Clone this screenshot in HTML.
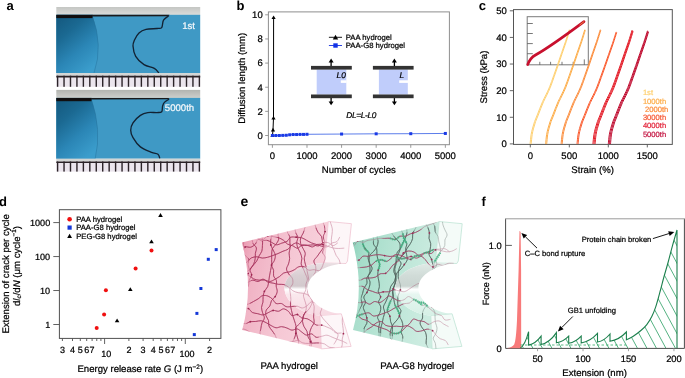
<!DOCTYPE html>
<html><head><meta charset="utf-8"><style>
html,body{margin:0;padding:0;background:#fff;width:685px;height:378px;overflow:hidden}
svg{display:block;filter:blur(0.4px)}
text{font-family:"Liberation Sans",sans-serif;text-rendering:geometricPrecision}
</style></head><body>
<svg width="685" height="378" viewBox="0 0 685 378" font-family="Liberation Sans, sans-serif">
<rect width="685" height="378" fill="#fff"/>
<defs>
<linearGradient id="gbar1" x1="0" y1="0" x2="0" y2="1"><stop offset="0" stop-color="#c4c6c3"/><stop offset="1" stop-color="#dcdddb"/></linearGradient>
<linearGradient id="gbar2" x1="0" y1="0" x2="0" y2="1"><stop offset="0" stop-color="#b2b4b0"/><stop offset="1" stop-color="#cfd0cd"/></linearGradient>
<linearGradient id="lens" x1="0.1" y1="0" x2="0.7" y2="1">
 <stop offset="0" stop-color="#14597f"/><stop offset="0.3" stop-color="#1b6992"/><stop offset="0.65" stop-color="#2b86b6"/><stop offset="1" stop-color="#3b9dcc"/></linearGradient>
<linearGradient id="pinkF" x1="0" y1="0" x2="1" y2="0.3">
 <stop offset="0" stop-color="#df7896"/><stop offset="0.07" stop-color="#eb9db3"/><stop offset="0.18" stop-color="#f0b1c3"/><stop offset="0.6" stop-color="#f5c7d4"/><stop offset="1" stop-color="#f8d2dc"/></linearGradient>
<linearGradient id="pinkN" x1="0" y1="0" x2="0" y2="1">
 <stop offset="0" stop-color="#eadfe3"/><stop offset="0.25" stop-color="#d9ced2"/><stop offset="0.44" stop-color="#d3c9cd"/><stop offset="0.5" stop-color="#ffffff"/><stop offset="0.6" stop-color="#fae8ed"/><stop offset="1" stop-color="#f7d9e2"/></linearGradient>
<linearGradient id="greenF" x1="0" y1="0" x2="1" y2="0.3">
 <stop offset="0" stop-color="#7acab0"/><stop offset="0.07" stop-color="#93d5bf"/><stop offset="0.18" stop-color="#a6ddca"/><stop offset="0.6" stop-color="#bce6d7"/><stop offset="1" stop-color="#cdece1"/></linearGradient>
<linearGradient id="greenN" x1="0" y1="0" x2="0" y2="1">
 <stop offset="0" stop-color="#e0ebe7"/><stop offset="0.25" stop-color="#d0dbd7"/><stop offset="0.44" stop-color="#cad5d1"/><stop offset="0.5" stop-color="#ffffff"/><stop offset="0.6" stop-color="#e6f6f0"/><stop offset="1" stop-color="#d6f0e6"/></linearGradient>
</defs>
<rect x="56.3" y="7.0" width="143.89999999999998" height="8.3" fill="url(#gbar1)"/>
<rect x="56.3" y="14.8" width="143.89999999999998" height="58.3" fill="#3f99c5"/>
<path d="M56.3,14.8 L92.0,14.8 Q103.5,45.5 94,73.1 L56.3,73.1 Z" fill="url(#lens)"/>
<path d="M92.0,14.8 Q103.5,45.5 94,73.1" fill="none" stroke="#246f99" stroke-width="0.8" opacity="0.6"/>
<rect x="56.3" y="14.8" width="36.2" height="3.3" fill="#110f10"/>
<path d="M92.0,14.8 L169.5,14.8 L168,16.2 L92.0,16.400000000000002 Z" fill="#1a1a1c"/>
<path d="M169.00,15.50 C168.08,16.28 164.72,18.18 163.50,20.20 C162.28,22.22 162.78,26.22 161.70,27.60 C160.62,28.98 159.62,28.20 157.00,28.50 C154.38,28.80 149.00,28.65 146.00,29.40 C143.00,30.15 140.92,31.23 139.00,33.00 C137.08,34.77 135.50,37.83 134.50,40.00 C133.50,42.17 132.80,43.28 133.00,46.00 C133.20,48.72 133.87,53.20 135.70,56.30 C137.53,59.40 140.90,62.60 144.00,64.60 C147.10,66.60 151.82,66.90 154.30,68.30 C156.78,69.70 158.13,72.22 158.90,73.00" fill="none" stroke="#122233" stroke-width="1.35" stroke-linejoin="round"/>
<rect x="56.3" y="73.1" width="143.89999999999998" height="2.6000000000000085" fill="#d2d5d4"/>
<rect x="56.3" y="75.7" width="143.89999999999998" height="11.099999999999994" fill="#ebe5ed"/>
<rect x="56.3" y="75.7" width="143.89999999999998" height="1.7999999999999972" fill="#2a2226"/>
<rect x="56.90" y="75.7" width="1.4" height="11.099999999999994" fill="#2b2328"/>
<rect x="63.34" y="75.7" width="1.4" height="11.099999999999994" fill="#2b2328"/>
<rect x="69.79" y="75.7" width="1.4" height="11.099999999999994" fill="#2b2328"/>
<rect x="76.23" y="75.7" width="1.4" height="11.099999999999994" fill="#2b2328"/>
<rect x="82.68" y="75.7" width="1.4" height="11.099999999999994" fill="#2b2328"/>
<rect x="89.12" y="75.7" width="1.4" height="11.099999999999994" fill="#2b2328"/>
<rect x="95.57" y="75.7" width="1.4" height="11.099999999999994" fill="#2b2328"/>
<rect x="102.01" y="75.7" width="1.4" height="11.099999999999994" fill="#2b2328"/>
<rect x="108.46" y="75.7" width="1.4" height="11.099999999999994" fill="#2b2328"/>
<rect x="114.90" y="75.7" width="1.4" height="11.099999999999994" fill="#2b2328"/>
<rect x="121.35" y="75.7" width="1.4" height="11.099999999999994" fill="#2b2328"/>
<rect x="127.79" y="75.7" width="1.4" height="11.099999999999994" fill="#2b2328"/>
<rect x="134.24" y="75.7" width="1.4" height="11.099999999999994" fill="#2b2328"/>
<rect x="140.68" y="75.7" width="1.4" height="11.099999999999994" fill="#2b2328"/>
<rect x="147.13" y="75.7" width="1.4" height="11.099999999999994" fill="#2b2328"/>
<rect x="153.57" y="75.7" width="1.4" height="11.099999999999994" fill="#2b2328"/>
<rect x="160.02" y="75.7" width="1.4" height="11.099999999999994" fill="#2b2328"/>
<rect x="166.46" y="75.7" width="1.4" height="11.099999999999994" fill="#2b2328"/>
<rect x="172.91" y="75.7" width="1.4" height="11.099999999999994" fill="#2b2328"/>
<rect x="179.35" y="75.7" width="1.4" height="11.099999999999994" fill="#2b2328"/>
<rect x="185.80" y="75.7" width="1.4" height="11.099999999999994" fill="#2b2328"/>
<rect x="192.24" y="75.7" width="1.4" height="11.099999999999994" fill="#2b2328"/>
<rect x="198.69" y="75.7" width="1.4" height="11.099999999999994" fill="#2b2328"/>
<text x="182.20" y="28.60" font-size="9.6" text-anchor="start" fill="#f4f8fb" stroke="#f4f8fb" stroke-width="0.22" >1st</text>
<rect x="56.3" y="89.9" width="143.89999999999998" height="8.5" fill="url(#gbar2)"/>
<rect x="56.3" y="97.9" width="143.89999999999998" height="60.79999999999998" fill="#3f99c5"/>
<path d="M56.3,97.9 L91.0,97.9 Q102,130 95.2,158.7 L56.3,158.7 Z" fill="url(#lens)"/>
<path d="M91.0,97.9 Q102,130 95.2,158.7" fill="none" stroke="#246f99" stroke-width="0.8" opacity="0.6"/>
<rect x="56.3" y="97.9" width="35.2" height="3.3" fill="#110f10"/>
<path d="M91.0,97.9 L169.6,97.9 L168.1,99.30000000000001 L91.0,99.5 Z" fill="#1a1a1c"/>
<path d="M169.10,99.20 C168.32,99.73 165.48,101.25 164.40,102.40 C163.32,103.55 163.05,104.55 162.60,106.10 C162.15,107.65 162.63,110.62 161.70,111.70 C160.77,112.78 159.32,112.45 157.00,112.60 C154.68,112.75 150.57,112.13 147.80,112.60 C145.03,113.07 142.87,113.70 140.40,115.40 C137.93,117.10 134.62,120.33 133.00,122.80 C131.38,125.27 130.70,127.73 130.70,130.20 C130.70,132.67 131.38,134.82 133.00,137.60 C134.62,140.38 137.32,144.43 140.40,146.90 C143.48,149.37 148.57,151.17 151.50,152.40 C154.43,153.63 156.62,153.28 158.00,154.30 C159.38,155.32 159.50,157.80 159.80,158.50" fill="none" stroke="#122233" stroke-width="1.35" stroke-linejoin="round"/>
<rect x="56.3" y="158.7" width="143.89999999999998" height="2.8000000000000114" fill="#d2d5d4"/>
<rect x="56.3" y="161.5" width="143.89999999999998" height="10.099999999999994" fill="#ebe5ed"/>
<rect x="56.3" y="161.5" width="143.89999999999998" height="1.5" fill="#2a2226"/>
<rect x="56.90" y="161.5" width="1.4" height="10.099999999999994" fill="#2b2328"/>
<rect x="63.34" y="161.5" width="1.4" height="10.099999999999994" fill="#2b2328"/>
<rect x="69.79" y="161.5" width="1.4" height="10.099999999999994" fill="#2b2328"/>
<rect x="76.23" y="161.5" width="1.4" height="10.099999999999994" fill="#2b2328"/>
<rect x="82.68" y="161.5" width="1.4" height="10.099999999999994" fill="#2b2328"/>
<rect x="89.12" y="161.5" width="1.4" height="10.099999999999994" fill="#2b2328"/>
<rect x="95.57" y="161.5" width="1.4" height="10.099999999999994" fill="#2b2328"/>
<rect x="102.01" y="161.5" width="1.4" height="10.099999999999994" fill="#2b2328"/>
<rect x="108.46" y="161.5" width="1.4" height="10.099999999999994" fill="#2b2328"/>
<rect x="114.90" y="161.5" width="1.4" height="10.099999999999994" fill="#2b2328"/>
<rect x="121.35" y="161.5" width="1.4" height="10.099999999999994" fill="#2b2328"/>
<rect x="127.79" y="161.5" width="1.4" height="10.099999999999994" fill="#2b2328"/>
<rect x="134.24" y="161.5" width="1.4" height="10.099999999999994" fill="#2b2328"/>
<rect x="140.68" y="161.5" width="1.4" height="10.099999999999994" fill="#2b2328"/>
<rect x="147.13" y="161.5" width="1.4" height="10.099999999999994" fill="#2b2328"/>
<rect x="153.57" y="161.5" width="1.4" height="10.099999999999994" fill="#2b2328"/>
<rect x="160.02" y="161.5" width="1.4" height="10.099999999999994" fill="#2b2328"/>
<rect x="166.46" y="161.5" width="1.4" height="10.099999999999994" fill="#2b2328"/>
<rect x="172.91" y="161.5" width="1.4" height="10.099999999999994" fill="#2b2328"/>
<rect x="179.35" y="161.5" width="1.4" height="10.099999999999994" fill="#2b2328"/>
<rect x="185.80" y="161.5" width="1.4" height="10.099999999999994" fill="#2b2328"/>
<rect x="192.24" y="161.5" width="1.4" height="10.099999999999994" fill="#2b2328"/>
<rect x="198.69" y="161.5" width="1.4" height="10.099999999999994" fill="#2b2328"/>
<text x="164.80" y="110.80" font-size="9.6" text-anchor="start" fill="#f4f8fb" stroke="#f4f8fb" stroke-width="0.22" >5000th</text>
<text x="6.60" y="10.20" font-size="13" text-anchor="start" fill="#000" font-weight="bold" >a</text>
<text x="236.60" y="10.00" font-size="13" text-anchor="start" fill="#000" font-weight="bold" >b</text>
<rect x="268.4" y="11.9" width="181.0" height="132.79999999999998" fill="none" stroke="#8e8e8e" stroke-width="1"/>
<line x1="265.20" y1="135.50" x2="268.40" y2="135.50" stroke="#8e8e8e" stroke-width="0.9" />
<text x="262.70" y="138.85" font-size="9.5" text-anchor="end" fill="#000" stroke="#000" stroke-width="0.22" >0</text>
<line x1="265.20" y1="111.36" x2="268.40" y2="111.36" stroke="#8e8e8e" stroke-width="0.9" />
<text x="262.70" y="114.71" font-size="9.5" text-anchor="end" fill="#000" stroke="#000" stroke-width="0.22" >2</text>
<line x1="265.20" y1="87.22" x2="268.40" y2="87.22" stroke="#8e8e8e" stroke-width="0.9" />
<text x="262.70" y="90.57" font-size="9.5" text-anchor="end" fill="#000" stroke="#000" stroke-width="0.22" >4</text>
<line x1="265.20" y1="63.08" x2="268.40" y2="63.08" stroke="#8e8e8e" stroke-width="0.9" />
<text x="262.70" y="66.43" font-size="9.5" text-anchor="end" fill="#000" stroke="#000" stroke-width="0.22" >6</text>
<line x1="265.20" y1="38.94" x2="268.40" y2="38.94" stroke="#8e8e8e" stroke-width="0.9" />
<text x="262.70" y="42.29" font-size="9.5" text-anchor="end" fill="#000" stroke="#000" stroke-width="0.22" >8</text>
<line x1="265.20" y1="14.80" x2="268.40" y2="14.80" stroke="#8e8e8e" stroke-width="0.9" />
<text x="262.70" y="18.15" font-size="9.5" text-anchor="end" fill="#000" stroke="#000" stroke-width="0.22" >10</text>
<line x1="272.40" y1="144.70" x2="272.40" y2="147.80" stroke="#8e8e8e" stroke-width="0.9" />
<text x="272.40" y="158.70" font-size="9.5" text-anchor="middle" fill="#000" stroke="#000" stroke-width="0.22" >0</text>
<line x1="306.99" y1="144.70" x2="306.99" y2="147.80" stroke="#8e8e8e" stroke-width="0.9" />
<text x="306.99" y="158.70" font-size="9.5" text-anchor="middle" fill="#000" stroke="#000" stroke-width="0.22" >1000</text>
<line x1="341.58" y1="144.70" x2="341.58" y2="147.80" stroke="#8e8e8e" stroke-width="0.9" />
<text x="341.58" y="158.70" font-size="9.5" text-anchor="middle" fill="#000" stroke="#000" stroke-width="0.22" >2000</text>
<line x1="376.17" y1="144.70" x2="376.17" y2="147.80" stroke="#8e8e8e" stroke-width="0.9" />
<text x="376.17" y="158.70" font-size="9.5" text-anchor="middle" fill="#000" stroke="#000" stroke-width="0.22" >3000</text>
<line x1="410.76" y1="144.70" x2="410.76" y2="147.80" stroke="#8e8e8e" stroke-width="0.9" />
<text x="410.76" y="158.70" font-size="9.5" text-anchor="middle" fill="#000" stroke="#000" stroke-width="0.22" >4000</text>
<line x1="445.35" y1="144.70" x2="445.35" y2="147.80" stroke="#8e8e8e" stroke-width="0.9" />
<text x="445.35" y="158.70" font-size="9.5" text-anchor="middle" fill="#000" stroke="#000" stroke-width="0.22" >5000</text>
<text x="358.80" y="173.20" font-size="9.6" text-anchor="middle" fill="#000" stroke="#000" stroke-width="0.22" >Number of cycles</text>
<text x="0.00" y="0.00" font-size="9.6" text-anchor="middle" fill="#000" stroke="#000" stroke-width="0.22" transform="translate(245.4,78.2) rotate(-90)">Diffusion length (mm)</text>
<rect x="316.7" y="69.4" width="29.600000000000023" height="25.2" fill="#c0cdfb"/>
<rect x="340.8" y="80.3" width="5.8" height="2.6" fill="#fff"/>
<rect x="311.0" y="65.9" width="40.80000000000001" height="3.7" fill="#333"/>
<rect x="311.0" y="94.5" width="40.80000000000001" height="3.7" fill="#333"/>
<line x1="331.1" y1="66" x2="331.1" y2="62" stroke="#000" stroke-width="1.3"/>
<polygon points="328.6,62.6 333.6,62.6 331.1,58.5" fill="#000"/>
<line x1="331.1" y1="98.1" x2="331.1" y2="102" stroke="#000" stroke-width="1.3"/>
<polygon points="328.6,101.4 333.6,101.4 331.1,105.3" fill="#000"/>
<text x="336.60" y="78.00" font-size="8.3" text-anchor="start" fill="#000" stroke="#000" stroke-width="0.22" font-style="italic" >L0</text>
<rect x="378.9" y="69.4" width="28.900000000000034" height="25.2" fill="#c0cdfb"/>
<rect x="399.2" y="80.3" width="8.900000000000023" height="2.6" fill="#fff"/>
<rect x="372.9" y="65.9" width="40.700000000000045" height="3.7" fill="#333"/>
<rect x="372.9" y="94.5" width="40.700000000000045" height="3.7" fill="#333"/>
<line x1="394.4" y1="66" x2="394.4" y2="62" stroke="#000" stroke-width="1.3"/>
<polygon points="391.9,62.6 396.9,62.6 394.4,58.5" fill="#000"/>
<line x1="394.4" y1="98.1" x2="394.4" y2="102" stroke="#000" stroke-width="1.3"/>
<polygon points="391.9,101.4 396.9,101.4 394.4,105.3" fill="#000"/>
<text x="399.40" y="78.00" font-size="8.3" text-anchor="start" fill="#000" stroke="#000" stroke-width="0.22" font-style="italic" >L</text>
<text x="346.20" y="117.60" font-size="8.3" text-anchor="start" fill="#000" stroke="#000" stroke-width="0.22" font-style="italic" letter-spacing="-0.3">DL=L-L0</text>
<line x1="328.90" y1="37.30" x2="342.00" y2="37.30" stroke="#000" stroke-width="0.9" />
<polygon points="332.8,39.4 338.2,39.4 335.5,34.8" fill="#000"/>
<text x="345.80" y="40.00" font-size="7.7" text-anchor="start" fill="#000" stroke="#000" stroke-width="0.22" >PAA hydrogel</text>
<line x1="328.90" y1="45.50" x2="342.00" y2="45.50" stroke="#1530e0" stroke-width="0.9" />
<rect x="333.3" y="43.3" width="4.4" height="4.4" fill="#1232e6"/>
<text x="345.80" y="48.20" font-size="7.7" text-anchor="start" fill="#000" stroke="#000" stroke-width="0.22" >PAA-G8 hydrogel</text>
<polyline points="272.50,135.50 273.00,129.80 273.50,117.90 273.60,17.40" fill="none" stroke="#000" stroke-width="1"/>
<polygon points="270.40,137.10 274.60,137.10 272.50,133.50" fill="#000"/>
<polygon points="270.90,131.40 275.10,131.40 273.00,127.80" fill="#000"/>
<polygon points="271.40,119.50 275.60,119.50 273.50,115.90" fill="#000"/>
<polygon points="271.50,19.00 275.70,19.00 273.60,15.40" fill="#000"/>
<polyline points="272.40,135.50 275.86,135.50 279.32,135.50 282.78,135.38 286.24,135.26 289.69,134.78 293.15,134.53 296.61,134.53 300.07,134.41 303.53,134.41 306.99,134.29 341.58,134.05 376.17,133.81 410.76,133.69 445.35,133.45" fill="none" stroke="#4a6ee8" stroke-width="0.9"/>
<rect x="270.90" y="134.00" width="3" height="3" fill="#1a3ae6"/>
<rect x="274.36" y="134.00" width="3" height="3" fill="#1a3ae6"/>
<rect x="277.82" y="134.00" width="3" height="3" fill="#1a3ae6"/>
<rect x="281.28" y="133.88" width="3" height="3" fill="#1a3ae6"/>
<rect x="284.74" y="133.76" width="3" height="3" fill="#1a3ae6"/>
<rect x="288.19" y="133.28" width="3" height="3" fill="#1a3ae6"/>
<rect x="291.65" y="133.03" width="3" height="3" fill="#1a3ae6"/>
<rect x="295.11" y="133.03" width="3" height="3" fill="#1a3ae6"/>
<rect x="298.57" y="132.91" width="3" height="3" fill="#1a3ae6"/>
<rect x="302.03" y="132.91" width="3" height="3" fill="#1a3ae6"/>
<rect x="305.49" y="132.79" width="3" height="3" fill="#1a3ae6"/>
<rect x="340.08" y="132.55" width="3" height="3" fill="#1a3ae6"/>
<rect x="374.67" y="132.31" width="3" height="3" fill="#1a3ae6"/>
<rect x="409.26" y="132.19" width="3" height="3" fill="#1a3ae6"/>
<rect x="443.85" y="131.95" width="3" height="3" fill="#1a3ae6"/>
<text x="478.70" y="10.20" font-size="13" text-anchor="start" fill="#000" font-weight="bold" >c</text>
<rect x="513.5" y="9.6" width="158.79999999999995" height="134.8" fill="none" stroke="#555" stroke-width="1"/>
<line x1="509.80" y1="143.90" x2="513.50" y2="143.90" stroke="#555" stroke-width="0.9" />
<text x="506.80" y="147.30" font-size="9.5" text-anchor="end" fill="#000" stroke="#000" stroke-width="0.22" >0</text>
<line x1="509.80" y1="117.28" x2="513.50" y2="117.28" stroke="#555" stroke-width="0.9" />
<text x="506.80" y="120.68" font-size="9.5" text-anchor="end" fill="#000" stroke="#000" stroke-width="0.22" >10</text>
<line x1="509.80" y1="90.66" x2="513.50" y2="90.66" stroke="#555" stroke-width="0.9" />
<text x="506.80" y="94.06" font-size="9.5" text-anchor="end" fill="#000" stroke="#000" stroke-width="0.22" >20</text>
<line x1="509.80" y1="64.04" x2="513.50" y2="64.04" stroke="#555" stroke-width="0.9" />
<text x="506.80" y="67.44" font-size="9.5" text-anchor="end" fill="#000" stroke="#000" stroke-width="0.22" >30</text>
<line x1="509.80" y1="37.42" x2="513.50" y2="37.42" stroke="#555" stroke-width="0.9" />
<text x="506.80" y="40.82" font-size="9.5" text-anchor="end" fill="#000" stroke="#000" stroke-width="0.22" >40</text>
<line x1="509.80" y1="10.80" x2="513.50" y2="10.80" stroke="#555" stroke-width="0.9" />
<text x="506.80" y="14.20" font-size="9.5" text-anchor="end" fill="#000" stroke="#000" stroke-width="0.22" >50</text>
<line x1="530.30" y1="144.40" x2="530.30" y2="147.40" stroke="#555" stroke-width="0.9" />
<text x="530.30" y="158.70" font-size="9.5" text-anchor="middle" fill="#000" stroke="#000" stroke-width="0.22" >0</text>
<line x1="569.30" y1="144.40" x2="569.30" y2="147.40" stroke="#555" stroke-width="0.9" />
<text x="569.30" y="158.70" font-size="9.5" text-anchor="middle" fill="#000" stroke="#000" stroke-width="0.22" >500</text>
<line x1="608.30" y1="144.40" x2="608.30" y2="147.40" stroke="#555" stroke-width="0.9" />
<text x="608.30" y="158.70" font-size="9.5" text-anchor="middle" fill="#000" stroke="#000" stroke-width="0.22" >1000</text>
<line x1="647.30" y1="144.40" x2="647.30" y2="147.40" stroke="#555" stroke-width="0.9" />
<text x="647.30" y="158.70" font-size="9.5" text-anchor="middle" fill="#000" stroke="#000" stroke-width="0.22" >1500</text>
<text x="592.70" y="173.20" font-size="9.6" text-anchor="middle" fill="#000" stroke="#000" stroke-width="0.22" >Strain (%)</text>
<text x="0.00" y="0.00" font-size="9.6" text-anchor="middle" fill="#000" stroke="#000" stroke-width="0.22" transform="translate(487.2,77.0) rotate(-90)">Stress (kPa)</text>
<rect x="527.2" y="16.7" width="61.09999999999991" height="48.099999999999994" fill="#fff" stroke="#7a7a7a" stroke-width="1"/>
<line x1="527.20" y1="23.50" x2="532.80" y2="23.50" stroke="#555" stroke-width="0.8" />
<line x1="527.20" y1="33.50" x2="532.80" y2="33.50" stroke="#555" stroke-width="0.8" />
<line x1="527.20" y1="43.60" x2="532.80" y2="43.60" stroke="#555" stroke-width="0.8" />
<line x1="527.20" y1="53.70" x2="532.80" y2="53.70" stroke="#555" stroke-width="0.8" />
<line x1="539.80" y1="64.80" x2="539.80" y2="61.80" stroke="#555" stroke-width="0.8" />
<line x1="550.60" y1="64.80" x2="550.60" y2="61.80" stroke="#555" stroke-width="0.8" />
<line x1="562.00" y1="64.80" x2="562.00" y2="61.80" stroke="#555" stroke-width="0.8" />
<line x1="573.20" y1="64.80" x2="573.20" y2="61.80" stroke="#555" stroke-width="0.8" />
<line x1="584.30" y1="64.80" x2="584.30" y2="59.40" stroke="#555" stroke-width="0.8" />
<path d="M530.10,143.90 C530.27,142.37 530.68,137.33 531.10,134.69 C531.52,132.06 532.02,130.29 532.60,128.09 C533.18,125.88 533.82,123.68 534.60,121.48 C535.38,119.28 536.42,117.09 537.30,114.87 C538.18,112.66 539.02,110.39 539.90,108.17 C540.78,105.95 541.60,103.76 542.60,101.56 C543.60,99.36 544.73,97.41 545.90,94.96 C547.07,92.51 548.32,90.04 549.60,86.85 C550.88,83.66 552.27,79.56 553.60,75.84 C554.93,72.12 556.27,68.37 557.60,64.53 C558.93,60.69 560.27,56.69 561.60,52.82 C562.93,48.95 564.32,45.18 565.60,41.31 C566.88,37.44 568.68,31.55 569.30,29.60" fill="none" stroke="#fed070" stroke-width="1.0"/>
<path d="M531.20,143.90 C531.36,142.37 531.75,137.36 532.15,134.74 C532.55,132.12 533.05,130.36 533.62,128.17 C534.19,125.98 534.81,123.79 535.58,121.60 C536.35,119.41 537.38,117.23 538.25,115.03 C539.12,112.82 539.94,110.56 540.81,108.36 C541.68,106.15 542.49,103.98 543.48,101.79 C544.47,99.59 545.59,97.65 546.74,95.21 C547.90,92.77 549.13,90.32 550.40,87.15 C551.67,83.98 553.03,79.90 554.34,76.20 C555.66,72.50 556.97,68.76 558.28,64.95 C559.60,61.13 560.91,57.15 562.22,53.30 C563.53,49.45 564.90,45.70 566.16,41.85 C567.42,38.00 569.19,32.14 569.80,30.20" fill="none" stroke="#fed070" stroke-width="1.0"/>
<path d="M545.60,143.90 C545.77,142.37 546.18,137.33 546.60,134.69 C547.02,132.06 547.52,130.29 548.10,128.09 C548.68,125.88 549.32,123.68 550.10,121.48 C550.88,119.28 551.92,117.09 552.80,114.87 C553.68,112.66 554.52,110.39 555.40,108.17 C556.28,105.95 557.10,103.76 558.10,101.56 C559.10,99.36 560.23,97.41 561.40,94.96 C562.57,92.51 563.82,90.04 565.10,86.85 C566.38,83.66 567.77,79.56 569.10,75.84 C570.43,72.12 571.77,68.37 573.10,64.53 C574.43,60.69 575.77,56.69 577.10,52.82 C578.43,48.95 579.82,45.18 581.10,41.31 C582.38,37.44 584.18,31.55 584.80,29.60" fill="none" stroke="#fdae4b" stroke-width="1.0"/>
<path d="M546.70,143.90 C546.86,142.37 547.25,137.36 547.65,134.74 C548.05,132.12 548.55,130.36 549.12,128.17 C549.69,125.98 550.31,123.79 551.08,121.60 C551.85,119.41 552.88,117.23 553.75,115.03 C554.62,112.82 555.44,110.56 556.31,108.36 C557.18,106.15 557.99,103.98 558.98,101.79 C559.97,99.59 561.09,97.65 562.24,95.21 C563.40,92.77 564.63,90.32 565.90,87.15 C567.17,83.98 568.53,79.90 569.84,76.20 C571.16,72.50 572.47,68.76 573.78,64.95 C575.10,61.13 576.41,57.15 577.72,53.30 C579.03,49.45 580.40,45.70 581.66,41.85 C582.92,38.00 584.69,32.14 585.30,30.20" fill="none" stroke="#fdae4b" stroke-width="1.0"/>
<path d="M561.10,143.90 C561.27,142.37 561.68,137.33 562.10,134.69 C562.52,132.06 563.02,130.29 563.60,128.09 C564.18,125.88 564.82,123.68 565.60,121.48 C566.38,119.28 567.42,117.09 568.30,114.87 C569.18,112.66 570.02,110.39 570.90,108.17 C571.78,105.95 572.60,103.76 573.60,101.56 C574.60,99.36 575.73,97.41 576.90,94.96 C578.07,92.51 579.32,90.04 580.60,86.85 C581.88,83.66 583.27,79.56 584.60,75.84 C585.93,72.12 587.27,68.37 588.60,64.53 C589.93,60.69 591.27,56.69 592.60,52.82 C593.93,48.95 595.32,45.18 596.60,41.31 C597.88,37.44 599.68,31.55 600.30,29.60" fill="none" stroke="#fc8d3c" stroke-width="1.0"/>
<path d="M562.20,143.90 C562.36,142.37 562.75,137.36 563.15,134.74 C563.55,132.12 564.05,130.36 564.62,128.17 C565.19,125.98 565.81,123.79 566.58,121.60 C567.35,119.41 568.38,117.23 569.25,115.03 C570.12,112.82 570.94,110.56 571.81,108.36 C572.68,106.15 573.49,103.98 574.48,101.79 C575.47,99.59 576.59,97.65 577.74,95.21 C578.90,92.77 580.13,90.32 581.40,87.15 C582.67,83.98 584.03,79.90 585.34,76.20 C586.66,72.50 587.97,68.76 589.28,64.95 C590.60,61.13 591.91,57.15 593.22,53.30 C594.53,49.45 595.90,45.70 597.16,41.85 C598.42,38.00 600.19,32.14 600.80,30.20" fill="none" stroke="#fc8d3c" stroke-width="1.0"/>
<path d="M577.00,143.90 C577.17,142.40 577.58,137.46 578.00,134.88 C578.42,132.29 578.92,130.56 579.50,128.40 C580.08,126.25 580.72,124.09 581.50,121.93 C582.28,119.77 583.32,117.63 584.20,115.46 C585.08,113.28 585.92,111.06 586.80,108.89 C587.68,106.71 588.50,104.57 589.50,102.41 C590.50,100.26 591.63,98.34 592.80,95.94 C593.97,93.54 595.22,91.12 596.50,88.00 C597.78,84.88 599.17,80.86 600.50,77.21 C601.83,73.56 603.17,69.89 604.50,66.13 C605.83,62.37 607.17,58.45 608.50,54.65 C609.83,50.86 611.22,47.17 612.50,43.37 C613.78,39.58 615.58,33.81 616.20,31.90" fill="none" stroke="#fb5a2c" stroke-width="1.0"/>
<path d="M578.10,143.90 C578.26,142.40 578.65,137.49 579.05,134.93 C579.45,132.36 579.95,130.63 580.52,128.49 C581.09,126.34 581.71,124.20 582.48,122.05 C583.25,119.90 584.28,117.77 585.15,115.61 C586.02,113.45 586.84,111.24 587.71,109.08 C588.58,106.91 589.39,104.78 590.38,102.64 C591.37,100.49 592.49,98.59 593.64,96.20 C594.80,93.81 596.03,91.40 597.30,88.30 C598.57,85.19 599.93,81.19 601.24,77.57 C602.56,73.94 603.87,70.28 605.18,66.54 C606.50,62.80 607.81,58.90 609.12,55.13 C610.43,51.36 611.80,47.68 613.06,43.91 C614.32,40.14 616.09,34.40 616.70,32.50" fill="none" stroke="#fb5a2c" stroke-width="1.0"/>
<path d="M592.90,143.90 C593.07,142.37 593.48,137.36 593.90,134.73 C594.32,132.11 594.82,130.35 595.40,128.16 C595.98,125.96 596.62,123.77 597.40,121.58 C598.18,119.39 599.22,117.21 600.10,115.00 C600.98,112.79 601.82,110.53 602.70,108.33 C603.58,106.12 604.40,103.94 605.40,101.75 C606.40,99.56 607.53,97.61 608.70,95.17 C609.87,92.73 611.12,90.27 612.40,87.10 C613.68,83.93 615.07,79.84 616.40,76.14 C617.73,72.43 619.07,68.70 620.40,64.88 C621.73,61.06 623.07,57.07 624.40,53.22 C625.73,49.37 627.12,45.61 628.40,41.76 C629.68,37.91 631.48,32.04 632.10,30.10" fill="none" stroke="#e41c28" stroke-width="1.0"/>
<path d="M594.00,143.90 C594.16,142.38 594.55,137.39 594.95,134.78 C595.35,132.17 595.85,130.42 596.42,128.24 C596.99,126.06 597.61,123.88 598.38,121.70 C599.15,119.52 600.18,117.35 601.05,115.15 C601.92,112.96 602.74,110.71 603.61,108.51 C604.48,106.32 605.29,104.15 606.28,101.97 C607.27,99.79 608.39,97.86 609.54,95.43 C610.70,93.00 611.93,90.55 613.20,87.40 C614.47,84.24 615.83,80.18 617.14,76.50 C618.46,72.81 619.77,69.09 621.08,65.29 C622.40,61.49 623.71,57.53 625.02,53.70 C626.33,49.86 627.70,46.13 628.96,42.30 C630.22,38.46 631.99,32.63 632.60,30.70" fill="none" stroke="#e41c28" stroke-width="1.0"/>
<path d="M595.10,143.90 C595.25,142.39 595.61,137.43 596.00,134.83 C596.39,132.23 596.87,130.49 597.43,128.32 C597.99,126.15 598.60,123.98 599.36,121.81 C600.12,119.64 601.14,117.49 602.00,115.31 C602.86,113.12 603.66,110.89 604.52,108.70 C605.38,106.51 606.18,104.36 607.16,102.19 C608.13,100.02 609.25,98.10 610.39,95.69 C611.53,93.27 612.75,90.84 614.00,87.70 C615.25,84.56 616.59,80.52 617.89,76.85 C619.18,73.19 620.47,69.49 621.77,65.71 C623.06,61.93 624.35,57.99 625.64,54.17 C626.94,50.36 628.28,46.65 629.52,42.84 C630.77,39.02 632.50,33.22 633.10,31.30" fill="none" stroke="#e41c28" stroke-width="1.0"/>
<path d="M608.30,143.90 C608.47,142.38 608.88,137.39 609.30,134.78 C609.72,132.17 610.22,130.42 610.80,128.24 C611.38,126.06 612.02,123.88 612.80,121.70 C613.58,119.52 614.62,117.35 615.50,115.15 C616.38,112.96 617.22,110.71 618.10,108.51 C618.98,106.32 619.80,104.15 620.80,101.97 C621.80,99.79 622.93,97.86 624.10,95.43 C625.27,93.00 626.52,90.55 627.80,87.40 C629.08,84.24 630.47,80.18 631.80,76.50 C633.13,72.81 634.47,69.09 635.80,65.29 C637.13,61.49 638.47,57.53 639.80,53.70 C641.13,49.86 642.52,46.13 643.80,42.30 C645.08,38.46 646.88,32.63 647.50,30.70" fill="none" stroke="#c00c30" stroke-width="1.0"/>
<path d="M609.40,143.90 C609.56,142.39 609.95,137.43 610.35,134.83 C610.75,132.23 611.25,130.49 611.82,128.32 C612.39,126.15 613.01,123.98 613.78,121.81 C614.55,119.64 615.58,117.49 616.45,115.31 C617.32,113.12 618.14,110.89 619.01,108.70 C619.88,106.51 620.69,104.36 621.68,102.19 C622.67,100.02 623.79,98.10 624.94,95.69 C626.10,93.27 627.33,90.84 628.60,87.70 C629.87,84.56 631.23,80.52 632.54,76.85 C633.86,73.19 635.17,69.49 636.48,65.71 C637.80,61.93 639.11,57.99 640.42,54.17 C641.73,50.36 643.10,46.65 644.36,42.84 C645.62,39.02 647.39,33.22 648.00,31.30" fill="none" stroke="#c00c30" stroke-width="1.0"/>
<path d="M610.50,143.90 C610.65,142.40 611.01,137.46 611.40,134.88 C611.79,132.29 612.27,130.56 612.83,128.40 C613.39,126.25 614.00,124.09 614.76,121.93 C615.52,119.77 616.54,117.63 617.40,115.46 C618.26,113.28 619.06,111.06 619.92,108.89 C620.78,106.71 621.58,104.57 622.56,102.41 C623.53,100.26 624.65,98.34 625.79,95.94 C626.93,93.54 628.15,91.12 629.40,88.00 C630.65,84.88 631.99,80.86 633.29,77.21 C634.58,73.56 635.87,69.89 637.17,66.13 C638.46,62.37 639.75,58.45 641.04,54.65 C642.34,50.86 643.68,47.17 644.92,43.37 C646.17,39.58 647.90,33.81 648.50,31.90" fill="none" stroke="#c00c30" stroke-width="1.0"/>
<path d="M527.7,64.6 C529,61 531,57.5 535.5,55 C548,48 566,35 584.0,21.6" fill="none" stroke="#c8102e" stroke-width="2.7" stroke-linecap="round"/>
<path d="M579.5,25.2 L584.2,21.4" fill="none" stroke="#f4903a" stroke-width="0.9"/>
<text x="642.90" y="95.20" font-size="7.6" text-anchor="start" fill="#fed070" stroke="#fed070" stroke-width="0.22" >1st</text>
<text x="642.90" y="103.70" font-size="7.6" text-anchor="start" fill="#fdae4b" stroke="#fdae4b" stroke-width="0.22" >1000th</text>
<text x="642.90" y="111.90" font-size="7.6" text-anchor="start" fill="#fc8d3c" stroke="#fc8d3c" stroke-width="0.22" >&#160;2000th</text>
<text x="642.90" y="120.10" font-size="7.6" text-anchor="start" fill="#f75a36" stroke="#f75a36" stroke-width="0.22" >3000th</text>
<text x="642.90" y="128.40" font-size="7.6" text-anchor="start" fill="#e3243a" stroke="#e3243a" stroke-width="0.22" >4000th</text>
<text x="642.90" y="136.80" font-size="7.6" text-anchor="start" fill="#c31340" stroke="#c31340" stroke-width="0.22" >5000th</text>
<text x="-0.90" y="205.60" font-size="13" text-anchor="start" fill="#000" font-weight="bold" >d</text>
<rect x="59.4" y="209.7" width="161.5" height="128.7" fill="none" stroke="#505050" stroke-width="1"/>
<line x1="53.30" y1="324.50" x2="59.40" y2="324.50" stroke="#505050" stroke-width="0.9" />
<text x="50.20" y="327.80" font-size="9.1" text-anchor="end" fill="#000" stroke="#000" stroke-width="0.22" >1</text>
<line x1="53.30" y1="290.53" x2="59.40" y2="290.53" stroke="#505050" stroke-width="0.9" />
<text x="50.20" y="293.83" font-size="9.1" text-anchor="end" fill="#000" stroke="#000" stroke-width="0.22" >10</text>
<line x1="53.30" y1="256.56" x2="59.40" y2="256.56" stroke="#505050" stroke-width="0.9" />
<text x="50.20" y="259.86" font-size="9.1" text-anchor="end" fill="#000" stroke="#000" stroke-width="0.22" >100</text>
<line x1="53.30" y1="222.59" x2="59.40" y2="222.59" stroke="#505050" stroke-width="0.9" />
<text x="50.20" y="225.89" font-size="9.1" text-anchor="end" fill="#000" stroke="#000" stroke-width="0.22" >1000</text>
<line x1="62.40" y1="338.40" x2="62.40" y2="341.00" stroke="#505050" stroke-width="0.9" />
<line x1="72.49" y1="338.40" x2="72.49" y2="341.00" stroke="#505050" stroke-width="0.9" />
<line x1="80.31" y1="338.40" x2="80.31" y2="341.00" stroke="#505050" stroke-width="0.9" />
<line x1="86.70" y1="338.40" x2="86.70" y2="341.00" stroke="#505050" stroke-width="0.9" />
<line x1="92.10" y1="338.40" x2="92.10" y2="341.00" stroke="#505050" stroke-width="0.9" />
<line x1="96.78" y1="338.40" x2="96.78" y2="341.00" stroke="#505050" stroke-width="0.9" />
<line x1="100.91" y1="338.40" x2="100.91" y2="341.00" stroke="#505050" stroke-width="0.9" />
<line x1="104.60" y1="338.40" x2="104.60" y2="344.00" stroke="#505050" stroke-width="0.9" />
<line x1="128.89" y1="338.40" x2="128.89" y2="341.00" stroke="#505050" stroke-width="0.9" />
<line x1="143.10" y1="338.40" x2="143.10" y2="341.00" stroke="#505050" stroke-width="0.9" />
<line x1="153.19" y1="338.40" x2="153.19" y2="341.00" stroke="#505050" stroke-width="0.9" />
<line x1="161.01" y1="338.40" x2="161.01" y2="341.00" stroke="#505050" stroke-width="0.9" />
<line x1="167.40" y1="338.40" x2="167.40" y2="341.00" stroke="#505050" stroke-width="0.9" />
<line x1="172.80" y1="338.40" x2="172.80" y2="341.00" stroke="#505050" stroke-width="0.9" />
<line x1="177.48" y1="338.40" x2="177.48" y2="341.00" stroke="#505050" stroke-width="0.9" />
<line x1="181.61" y1="338.40" x2="181.61" y2="341.00" stroke="#505050" stroke-width="0.9" />
<line x1="185.30" y1="338.40" x2="185.30" y2="344.00" stroke="#505050" stroke-width="0.9" />
<line x1="209.59" y1="338.40" x2="209.59" y2="341.00" stroke="#505050" stroke-width="0.9" />
<text x="62.40" y="352.60" font-size="9.0" text-anchor="middle" fill="#000" stroke="#000" stroke-width="0.22" >3</text>
<text x="72.49" y="352.60" font-size="9.0" text-anchor="middle" fill="#000" stroke="#000" stroke-width="0.22" >4</text>
<text x="80.31" y="352.60" font-size="9.0" text-anchor="middle" fill="#000" stroke="#000" stroke-width="0.22" >5</text>
<text x="86.70" y="352.60" font-size="9.0" text-anchor="middle" fill="#000" stroke="#000" stroke-width="0.22" >6</text>
<text x="92.10" y="352.60" font-size="9.0" text-anchor="middle" fill="#000" stroke="#000" stroke-width="0.22" >7</text>
<text x="128.89" y="352.60" font-size="9.0" text-anchor="middle" fill="#000" stroke="#000" stroke-width="0.22" >2</text>
<text x="143.10" y="352.60" font-size="9.0" text-anchor="middle" fill="#000" stroke="#000" stroke-width="0.22" >3</text>
<text x="153.19" y="352.60" font-size="9.0" text-anchor="middle" fill="#000" stroke="#000" stroke-width="0.22" >4</text>
<text x="161.01" y="352.60" font-size="9.0" text-anchor="middle" fill="#000" stroke="#000" stroke-width="0.22" >5</text>
<text x="167.40" y="352.60" font-size="9.0" text-anchor="middle" fill="#000" stroke="#000" stroke-width="0.22" >6</text>
<text x="172.80" y="352.60" font-size="9.0" text-anchor="middle" fill="#000" stroke="#000" stroke-width="0.22" >7</text>
<text x="209.59" y="352.60" font-size="9.0" text-anchor="middle" fill="#000" stroke="#000" stroke-width="0.22" >2</text>
<text x="106.20" y="356.90" font-size="9.0" text-anchor="middle" fill="#000" stroke="#000" stroke-width="0.22" >10</text>
<text x="186.90" y="356.90" font-size="9.0" text-anchor="middle" fill="#000" stroke="#000" stroke-width="0.22" >100</text>
<text x="77.40" y="372.20" font-size="9.6" text-anchor="start" fill="#000" stroke="#000" stroke-width="0.22" >Energy release rate <tspan font-style="italic">G</tspan> (J m<tspan font-size="6.4" dy="-3.6">&#8722;2</tspan><tspan dy="3.6">)</tspan></text>
<text x="0.00" y="0.00" font-size="9.6" text-anchor="start" fill="#000" stroke="#000" stroke-width="0.22" transform="translate(8.6,333.6) rotate(-90)">Extension of crack per cycle</text>
<text x="0.00" y="0.00" font-size="9.6" text-anchor="start" fill="#000" stroke="#000" stroke-width="0.22" transform="translate(19.6,306.0) rotate(-90)">d<tspan font-style="italic">l</tspan><tspan font-size="6.4" dy="1.8" font-style="italic">c</tspan><tspan dy="-1.8">/d</tspan><tspan font-style="italic">N</tspan> (&#956;m cycle<tspan font-size="6.4" dy="-3.6">&#8722;1</tspan><tspan dy="3.6">)</tspan></text>
<circle cx="69.6" cy="219.3" r="2.3" fill="#f01010"/>
<rect x="67.5" y="225.5" width="4.2" height="4.2" fill="#1438d8"/>
<polygon points="67.2,237.9 72.0,237.9 69.6,233.7" fill="#000"/>
<text x="76.20" y="221.90" font-size="7.7" text-anchor="start" fill="#000" stroke="#000" stroke-width="0.22" >PAA hydrogel</text>
<text x="76.20" y="230.20" font-size="7.7" text-anchor="start" fill="#000" stroke="#000" stroke-width="0.22" >PAA-G8 hydrogel</text>
<text x="76.20" y="238.60" font-size="7.7" text-anchor="start" fill="#000" stroke="#000" stroke-width="0.22" >PEG-G8 hydrogel</text>
<circle cx="96.7" cy="327.9" r="2.0" fill="#f01010"/>
<circle cx="104.1" cy="314.4" r="2.0" fill="#f01010"/>
<circle cx="105.9" cy="290.3" r="2.0" fill="#f01010"/>
<circle cx="135.6" cy="268.6" r="2.0" fill="#f01010"/>
<circle cx="151.5" cy="250.5" r="2.0" fill="#f01010"/>
<polygon points="114.80,322.30 119.40,322.30 117.10,318.40" fill="#000"/>
<polygon points="128.00,291.10 132.60,291.10 130.30,287.20" fill="#000"/>
<polygon points="149.20,243.30 153.80,243.30 151.50,239.40" fill="#000"/>
<polygon points="158.20,216.90 162.80,216.90 160.50,213.00" fill="#000"/>
<rect x="192.80" y="333.10" width="3" height="3" fill="#1438d8"/>
<rect x="195.40" y="311.90" width="3" height="3" fill="#1438d8"/>
<rect x="199.40" y="287.00" width="3" height="3" fill="#1438d8"/>
<rect x="206.80" y="257.80" width="3" height="3" fill="#1438d8"/>
<rect x="214.70" y="248.10" width="3" height="3" fill="#1438d8"/>
<text x="481.40" y="205.60" font-size="13" text-anchor="start" fill="#000" font-weight="bold" >f</text>
<path d="M505.6,218.8 L505.6,348.4 L684.4,348.4 L684.4,218.8" fill="none" stroke="#4a4a4a" stroke-width="1"/>
<line x1="505.10" y1="218.80" x2="684.90" y2="218.80" stroke="#9a9a9a" stroke-width="1" />
<line x1="505.60" y1="245.40" x2="511.90" y2="245.40" stroke="#4a4a4a" stroke-width="0.9" />
<text x="501.70" y="248.90" font-size="9.3" text-anchor="end" fill="#000" stroke="#000" stroke-width="0.22" >1.0</text>
<text x="501.70" y="351.80" font-size="9.3" text-anchor="end" fill="#000" stroke="#000" stroke-width="0.22" >0</text>
<line x1="537.56" y1="348.40" x2="537.56" y2="351.20" stroke="#999" stroke-width="0.9" />
<text x="537.56" y="362.20" font-size="9.3" text-anchor="middle" fill="#000" stroke="#000" stroke-width="0.22" >50</text>
<line x1="583.02" y1="348.40" x2="583.02" y2="351.20" stroke="#999" stroke-width="0.9" />
<text x="583.02" y="362.20" font-size="9.3" text-anchor="middle" fill="#000" stroke="#000" stroke-width="0.22" >100</text>
<line x1="628.48" y1="348.40" x2="628.48" y2="351.20" stroke="#999" stroke-width="0.9" />
<text x="628.48" y="362.20" font-size="9.3" text-anchor="middle" fill="#000" stroke="#000" stroke-width="0.22" >150</text>
<line x1="673.94" y1="348.40" x2="673.94" y2="351.20" stroke="#999" stroke-width="0.9" />
<text x="673.94" y="362.20" font-size="9.3" text-anchor="middle" fill="#000" stroke="#000" stroke-width="0.22" >200</text>
<text x="594.60" y="375.60" font-size="9.6" text-anchor="middle" fill="#000" stroke="#000" stroke-width="0.22" >Extension (nm)</text>
<text x="0.00" y="0.00" font-size="9.0" text-anchor="middle" fill="#000" stroke="#000" stroke-width="0.22" transform="translate(489.0,283.7) rotate(-90)">Force (nN)</text>
<path d="M507,348.2 C510,347.8 512.5,346.8 514.2,344.5 C515.6,341 516.3,334 517,320 L518.6,270 L519.5,230.8 L520.6,232 L521.1,270 L521.2,348.2 Z" fill="#f87a7a"/>
<clipPath id="fclip"><path d="M520.4,348.0 Q524.91,345.56 528.6,331.7 L528.6,345.1 Q535.48,343.75 541.1,336.1 L541.1,344.5 Q549.51,342.72 556.4,332.6 L556.4,342.8 Q563.16,341.80 568.7,336.1 L568.7,343.3 Q575.58,342.22 581.2,336.1 L581.2,343.0 Q590.16,341.56 597.5,333.4 L597.5,342.0 Q604.38,340.80 610.0,334.0 L610.0,341.3 Q619.02,339.91 626.4,332.0 L626.4,339.8 C627.48,339.25 630.48,338.05 632.90,336.50 C635.32,334.95 638.58,332.48 640.90,330.50 C643.22,328.52 644.98,326.92 646.80,324.60 C648.62,322.28 650.30,319.58 651.80,316.60 C653.30,313.62 654.35,311.13 655.80,306.70 C657.25,302.27 659.15,294.95 660.50,290.00 C661.85,285.05 662.62,281.67 663.90,277.00 C665.18,272.33 666.77,267.23 668.20,262.00 C669.63,256.77 671.03,250.93 672.50,245.60 C673.97,240.27 676.25,232.60 677.00,230.00 L677.0,348.2 L520.4,348.2 Z"/></clipPath>
<g clip-path="url(#fclip)"><path d="M419.00,348.4 L354.00,228.14999999999998 M428.50,348.4 L363.50,228.14999999999998 M438.00,348.4 L373.00,228.14999999999998 M447.50,348.4 L382.50,228.14999999999998 M457.00,348.4 L392.00,228.14999999999998 M466.50,348.4 L401.50,228.14999999999998 M476.00,348.4 L411.00,228.14999999999998 M485.50,348.4 L420.50,228.14999999999998 M495.00,348.4 L430.00,228.14999999999998 M504.50,348.4 L439.50,228.14999999999998 M514.00,348.4 L449.00,228.14999999999998 M523.50,348.4 L458.50,228.14999999999998 M533.00,348.4 L468.00,228.14999999999998 M542.50,348.4 L477.50,228.14999999999998 M552.00,348.4 L487.00,228.14999999999998 M561.50,348.4 L496.50,228.14999999999998 M571.00,348.4 L506.00,228.14999999999998 M580.50,348.4 L515.50,228.14999999999998 M590.00,348.4 L525.00,228.14999999999998 M599.50,348.4 L534.50,228.14999999999998 M609.00,348.4 L544.00,228.14999999999998 M618.50,348.4 L553.50,228.14999999999998 M628.00,348.4 L563.00,228.14999999999998 M637.50,348.4 L572.50,228.14999999999998 M647.00,348.4 L582.00,228.14999999999998 M656.50,348.4 L591.50,228.14999999999998 M666.00,348.4 L601.00,228.14999999999998 M675.50,348.4 L610.50,228.14999999999998 M685.00,348.4 L620.00,228.14999999999998 M694.50,348.4 L629.50,228.14999999999998 M704.00,348.4 L639.00,228.14999999999998 M713.50,348.4 L648.50,228.14999999999998 M723.00,348.4 L658.00,228.14999999999998 M732.50,348.4 L667.50,228.14999999999998 M742.00,348.4 L677.00,228.14999999999998 M751.50,348.4 L686.50,228.14999999999998 M761.00,348.4 L696.00,228.14999999999998 M770.50,348.4 L705.50,228.14999999999998 M780.00,348.4 L715.00,228.14999999999998 M789.50,348.4 L724.50,228.14999999999998 M799.00,348.4 L734.00,228.14999999999998 M808.50,348.4 L743.50,228.14999999999998 M818.00,348.4 L753.00,228.14999999999998 M827.50,348.4 L762.50,228.14999999999998 M837.00,348.4 L772.00,228.14999999999998 M846.50,348.4 L781.50,228.14999999999998 M856.00,348.4 L791.00,228.14999999999998 M865.50,348.4 L800.50,228.14999999999998 M875.00,348.4 L810.00,228.14999999999998 M884.50,348.4 L819.50,228.14999999999998" stroke="#2a9e62" stroke-width="0.8" fill="none"/></g>
<line x1="520.5" y1="345.0" x2="626" y2="345.0" stroke="#2ea866" stroke-width="0.8" stroke-dasharray="2.5,2"/>
<path d="M520.4,348.0 Q524.91,345.56 528.6,331.7 L528.6,345.1 Q535.48,343.75 541.1,336.1 L541.1,344.5 Q549.51,342.72 556.4,332.6 L556.4,342.8 Q563.16,341.80 568.7,336.1 L568.7,343.3 Q575.58,342.22 581.2,336.1 L581.2,343.0 Q590.16,341.56 597.5,333.4 L597.5,342.0 Q604.38,340.80 610.0,334.0 L610.0,341.3 Q619.02,339.91 626.4,332.0 L626.4,339.8 C627.48,339.25 630.48,338.05 632.90,336.50 C635.32,334.95 638.58,332.48 640.90,330.50 C643.22,328.52 644.98,326.92 646.80,324.60 C648.62,322.28 650.30,319.58 651.80,316.60 C653.30,313.62 654.35,311.13 655.80,306.70 C657.25,302.27 659.15,294.95 660.50,290.00 C661.85,285.05 662.62,281.67 663.90,277.00 C665.18,272.33 666.77,267.23 668.20,262.00 C669.63,256.77 671.03,250.93 672.50,245.60 C673.97,240.27 676.25,232.60 677.00,230.00 L677.0,348.2" fill="none" stroke="#1b7f4c" stroke-width="1.1" stroke-linejoin="miter"/>
<line x1="537.00" y1="248.10" x2="525.41" y2="236.81" stroke="#000" stroke-width="0.9" />
<polygon points="521.40,232.90 527.16,235.02 523.67,238.60" fill="#000"/>
<line x1="652.90" y1="238.60" x2="668.96" y2="233.57" stroke="#000" stroke-width="0.9" />
<polygon points="674.30,231.90 669.70,235.96 668.21,231.19" fill="#000"/>
<line x1="572.80" y1="316.50" x2="561.86" y2="327.44" stroke="#000" stroke-width="0.9" />
<polygon points="557.90,331.40 560.09,325.67 563.63,329.21" fill="#000"/>
<text x="524.80" y="256.30" font-size="7.6" text-anchor="start" fill="#000" stroke="#000" stroke-width="0.22" >C&#8211;C bond rupture</text>
<text x="581.70" y="241.70" font-size="7.6" text-anchor="start" fill="#000" stroke="#000" stroke-width="0.22" >Protein chain broken</text>
<text x="567.80" y="313.40" font-size="7.6" text-anchor="start" fill="#000" stroke="#000" stroke-width="0.22" >GB1 unfolding</text>
<text x="240.40" y="205.90" font-size="14" text-anchor="start" fill="#000" font-weight="bold" >e</text>
<text x="289.20" y="368.50" font-size="9.6" text-anchor="middle" fill="#000" stroke="#000" stroke-width="0.22" >PAA hydrogel</text>
<text x="417.30" y="368.50" font-size="9.6" text-anchor="middle" fill="#000" stroke="#000" stroke-width="0.22" >PAA-G8 hydrogel</text>
<path d="M241.90,242.50 L328.30,221.50 L324.50,263.00 C305.00,263.50 284.50,273.00 284.50,288.00 C284.50,302.00 302.00,314.50 320.00,315.50 L321.30,348.90 L242.20,329.90 Q254.00,287.00 241.90,242.50 Z" fill="url(#pinkF)"/>
<path d="M328.30,221.50 L351.40,223.70 L347.50,261.00 L346.00,263.50 L324.50,263.00 Z" fill="#fdf6f8" stroke="#f0c4d2" stroke-width="0.8"/>
<path d="M320.00,315.50 L341.30,313.80 L351.10,346.40 L321.30,348.90 Z" fill="#fdf6f8" stroke="#f0c4d2" stroke-width="0.8"/>
<path d="M324.50,263.00 C305.00,263.50 284.50,273.00 284.50,288.00 C284.50,302.00 302.00,314.50 320.00,315.50 L341.30,313.80 C324.00,313.00 307.60,301.00 307.60,288.00 C307.60,274.00 327.00,264.00 346.00,263.50 Z" fill="url(#pinkN)"/>
<clipPath id="clipPf"><path d="M241.90,242.50 L328.30,221.50 L324.50,263.00 C305.00,263.50 284.50,273.00 284.50,288.00 C284.50,302.00 302.00,314.50 320.00,315.50 L321.30,348.90 L242.20,329.90 Q254.00,287.00 241.90,242.50 Z" transform="translate(288,286) scale(0.93,0.94) translate(-288,-286)"/></clipPath>
<clipPath id="clipP"><path d="M241.90,242.50 L328.30,221.50 L324.50,263.00 C305.00,263.50 284.50,273.00 284.50,288.00 C284.50,302.00 302.00,314.50 320.00,315.50 L321.30,348.90 L242.20,329.90 Q254.00,287.00 241.90,242.50 Z"/><path d="M328.30,221.50 L351.40,223.70 L347.50,261.00 L346.00,263.50 L324.50,263.00 Z"/><path d="M320.00,315.50 L341.30,313.80 L351.10,346.40 L321.30,348.90 Z"/><path d="M324.50,263.00 C305.00,263.50 284.50,273.00 284.50,288.00 C284.50,302.00 302.00,314.50 320.00,315.50 L341.30,313.80 C324.00,313.00 307.60,301.00 307.60,288.00 C307.60,274.00 327.00,264.00 346.00,263.50 Z"/></clipPath>
<g clip-path="url(#clipP)" fill="none" stroke-width="0.7" opacity="0.45"><path stroke="#9e2450" d="M243.95,239.20 C243.87,240.12 243.70,242.87 243.44,244.68 C243.18,246.49 242.19,248.35 242.41,250.08 C242.63,251.81 243.75,253.55 244.78,255.04 C245.81,256.53 248.04,257.45 248.58,259.02 C249.12,260.59 247.90,262.69 248.03,264.49 C248.17,266.29 248.79,268.10 249.39,269.82 C249.99,271.55 251.63,273.18 251.62,274.85 C251.61,276.52 249.85,278.11 249.34,279.85 C248.84,281.60 249.13,283.57 248.60,285.30 C248.07,287.03 246.71,288.51 246.17,290.24 C245.62,291.97 245.67,293.87 245.32,295.67 C244.97,297.47 243.99,299.27 244.07,301.03 C244.16,302.79 245.58,304.45 245.84,306.24 C246.11,308.02 246.10,309.99 245.67,311.73 C245.24,313.47 243.86,314.96 243.26,316.68 C242.67,318.40 242.64,320.31 242.12,322.06 C241.59,323.81 240.77,325.46 240.11,327.18 C239.46,328.89 238.52,331.47 238.20,332.33 M251.86,238.14 C252.05,239.03 252.29,241.88 253.04,243.51 C253.79,245.13 255.97,246.26 256.36,247.89 C256.76,249.52 255.58,251.48 255.39,253.30 C255.19,255.12 255.46,257.00 255.17,258.80 C254.88,260.60 254.41,262.43 253.66,264.09 C252.92,265.74 251.63,267.14 250.71,268.73 C249.80,270.31 249.17,272.09 248.16,273.60 C247.14,275.11 245.35,276.20 244.62,277.81 C243.89,279.42 244.30,281.50 243.78,283.25 C243.26,284.99 241.99,286.51 241.52,288.26 C241.06,290.01 241.55,292.05 240.96,293.73 C240.38,295.42 239.09,296.90 238.02,298.38 C236.96,299.87 234.95,301.05 234.56,302.66 C234.18,304.27 235.07,306.35 235.72,308.04 C236.36,309.73 237.52,311.23 238.45,312.81 C239.39,314.38 241.15,315.85 241.32,317.50 C241.49,319.15 239.85,320.91 239.49,322.69 C239.13,324.47 239.38,326.36 239.17,328.18 C238.95,330.00 238.36,332.69 238.20,333.59 M261.40,234.81 C261.59,235.71 262.36,238.38 262.53,240.20 C262.70,242.01 262.54,243.87 262.42,245.70 C262.31,247.52 262.39,249.46 261.83,251.16 C261.26,252.87 259.90,254.29 259.05,255.91 C258.21,257.54 257.72,259.37 256.76,260.91 C255.80,262.45 254.45,263.76 253.27,265.17 C252.10,266.57 251.01,268.07 249.72,269.36 C248.43,270.66 246.70,271.54 245.52,272.91 C244.33,274.28 242.94,275.91 242.62,277.59 C242.31,279.27 243.78,281.24 243.62,283.00 C243.47,284.76 242.60,286.59 241.69,288.15 C240.77,289.70 239.37,290.99 238.14,292.35 C236.91,293.71 235.31,294.80 234.33,296.31 C233.34,297.82 232.95,299.71 232.24,301.40 C231.52,303.09 230.23,304.70 230.03,306.44 C229.83,308.18 231.15,310.08 231.03,311.85 C230.90,313.62 229.76,315.29 229.27,317.06 C228.78,318.82 228.12,320.63 228.08,322.43 C228.04,324.23 228.35,326.18 229.01,327.85 C229.68,329.51 231.57,331.65 232.08,332.41 M272.22,234.12 C271.98,235.00 271.03,237.63 270.79,239.43 C270.56,241.23 270.43,243.18 270.81,244.93 C271.18,246.68 272.31,248.28 273.05,249.95 C273.79,251.63 275.04,253.24 275.27,254.98 C275.50,256.73 275.00,258.71 274.41,260.42 C273.82,262.12 271.87,263.55 271.73,265.22 C271.59,266.88 273.27,268.62 273.58,270.40 C273.89,272.18 273.10,274.20 273.58,275.90 C274.05,277.60 276.00,278.90 276.43,280.60 C276.87,282.30 276.06,284.27 276.19,286.09 C276.32,287.91 277.38,289.75 277.21,291.50 C277.03,293.25 276.10,295.07 275.15,296.60 C274.20,298.13 272.36,299.14 271.48,300.70 C270.60,302.26 270.74,304.39 269.87,305.95 C268.99,307.52 266.91,308.49 266.25,310.10 C265.59,311.70 265.55,313.86 265.93,315.59 C266.30,317.31 267.99,318.73 268.49,320.46 C268.98,322.18 268.31,324.27 268.89,325.94 C269.47,327.62 270.93,328.99 271.96,330.51 C272.99,332.02 274.23,333.43 275.07,335.04 C275.90,336.66 276.64,339.35 276.96,340.21 M279.84,228.93 C279.54,229.80 278.27,232.35 278.05,234.13 C277.84,235.91 278.92,237.90 278.55,239.61 C278.18,241.32 276.87,242.89 275.85,244.40 C274.82,245.91 273.07,247.05 272.38,248.67 C271.69,250.29 271.81,252.30 271.69,254.12 C271.57,255.95 271.70,257.79 271.67,259.62 C271.65,261.46 271.72,263.30 271.53,265.12 C271.35,266.94 270.87,268.73 270.54,270.53 C270.20,272.33 269.81,274.13 269.51,275.93 C269.20,277.74 269.02,279.57 268.71,281.37 C268.39,283.18 268.31,285.11 267.60,286.76 C266.89,288.41 265.20,289.63 264.45,291.27 C263.70,292.91 263.32,294.79 263.08,296.60 C262.83,298.40 263.24,300.30 262.98,302.10 C262.71,303.90 261.56,305.61 261.50,307.39 C261.44,309.17 262.15,311.01 262.62,312.78 C263.10,314.54 264.47,316.30 264.36,318.00 C264.26,319.69 262.57,321.24 261.99,322.96 C261.41,324.69 261.20,326.54 260.88,328.35 C260.57,330.15 259.78,332.10 260.12,333.79 C260.46,335.49 262.15,336.88 262.90,338.54 C263.65,340.20 264.32,342.90 264.60,343.77 M288.32,226.32 C288.15,227.23 287.07,230.00 287.30,231.73 C287.53,233.45 289.28,234.93 289.71,236.67 C290.14,238.41 289.79,240.34 289.87,242.17 C289.94,244.00 290.28,245.85 290.15,247.66 C290.02,249.48 289.18,251.25 289.09,253.06 C289.00,254.87 289.73,256.72 289.63,258.53 C289.53,260.34 289.01,262.16 288.49,263.91 C287.97,265.67 286.46,267.35 286.51,269.04 C286.56,270.73 287.81,272.52 288.78,274.05 C289.75,275.59 291.66,276.65 292.31,278.27 C292.97,279.88 293.09,282.05 292.69,283.76 C292.29,285.46 290.30,286.80 289.91,288.50 C289.53,290.21 290.23,292.16 290.39,293.98 C290.55,295.81 290.86,297.63 290.87,299.46 C290.88,301.29 290.35,303.13 290.45,304.95 C290.55,306.76 291.08,308.56 291.47,310.35 C291.85,312.14 292.26,313.94 292.76,315.70 C293.26,317.46 293.94,319.17 294.49,320.92 C295.03,322.67 295.78,324.40 296.03,326.20 C296.29,327.99 295.81,329.89 296.03,331.70 C296.25,333.50 296.89,335.26 297.33,337.04 C297.77,338.82 298.64,340.60 298.66,342.38 C298.67,344.16 297.61,346.84 297.41,347.73 M294.71,226.97 C294.86,227.87 295.13,230.64 295.65,232.39 C296.16,234.14 297.62,235.71 297.80,237.45 C297.97,239.19 296.66,241.05 296.68,242.84 C296.71,244.63 297.32,246.48 297.95,248.19 C298.57,249.90 299.77,251.40 300.43,253.10 C301.08,254.80 301.75,256.61 301.87,258.41 C301.99,260.20 300.89,262.11 301.15,263.86 C301.40,265.60 302.69,267.18 303.41,268.87 C304.13,270.55 304.81,272.26 305.47,273.97 C306.13,275.68 307.29,277.38 307.37,279.13 C307.46,280.88 306.23,282.64 305.96,284.45 C305.70,286.25 306.22,288.20 305.80,289.94 C305.38,291.69 303.65,293.20 303.47,294.92 C303.28,296.65 304.21,298.52 304.67,300.29 C305.13,302.06 306.02,303.77 306.22,305.57 C306.41,307.36 306.34,309.33 305.85,311.06 C305.36,312.78 303.83,314.20 303.27,315.91 C302.72,317.63 302.40,319.57 302.52,321.36 C302.65,323.15 303.28,325.00 304.02,326.65 C304.76,328.31 306.30,329.63 306.96,331.30 C307.63,332.97 307.43,334.97 308.00,336.70 C308.57,338.43 310.16,339.93 310.38,341.66 C310.61,343.39 309.52,346.16 309.35,347.06 M306.55,222.55 C306.27,223.42 305.40,226.03 304.85,227.78 C304.29,229.52 303.94,231.35 303.24,233.04 C302.54,234.72 301.11,236.17 300.67,237.90 C300.23,239.63 300.24,241.65 300.62,243.40 C301.01,245.14 302.20,246.71 302.97,248.37 C303.74,250.04 305.03,251.65 305.24,253.38 C305.45,255.12 304.23,256.99 304.25,258.79 C304.26,260.59 304.92,262.40 305.35,264.18 C305.77,265.96 306.36,267.70 306.79,269.49 C307.22,271.27 307.56,273.07 307.91,274.87 C308.26,276.67 308.56,278.48 308.89,280.28 C309.22,282.09 310.09,283.96 309.87,285.69 C309.65,287.43 307.73,288.96 307.57,290.69 C307.40,292.41 308.07,294.43 308.87,296.03 C309.67,297.63 312.02,298.68 312.37,300.27 C312.73,301.86 311.70,303.93 310.98,305.59 C310.27,307.26 309.22,308.85 308.07,310.26 C306.92,311.67 304.98,312.54 304.09,314.06 C303.21,315.58 303.53,317.77 302.76,319.40 C302.00,321.02 300.67,322.42 299.49,323.81 C298.31,325.21 296.28,326.19 295.67,327.77 C295.06,329.35 296.05,331.47 295.81,333.27 C295.58,335.06 294.98,336.87 294.27,338.55 C293.56,340.22 292.00,342.53 291.55,343.33 M314.45,221.97 C314.67,222.86 315.17,225.59 315.77,227.31 C316.36,229.04 317.07,230.78 318.03,232.32 C318.99,233.87 320.78,234.96 321.52,236.57 C322.25,238.19 322.00,240.22 322.44,242.00 C322.89,243.77 324.12,245.45 324.19,247.21 C324.26,248.97 322.69,250.83 322.86,252.55 C323.04,254.27 325.13,255.81 325.25,257.51 C325.37,259.21 324.19,261.02 323.60,262.75 C323.01,264.49 322.56,266.32 321.69,267.91 C320.82,269.50 319.53,270.88 318.36,272.29 C317.19,273.70 315.92,275.03 314.67,276.36 C313.41,277.70 311.82,278.80 310.82,280.30 C309.82,281.80 308.65,283.68 308.67,285.36 C308.69,287.04 310.67,288.63 310.93,290.37 C311.19,292.12 310.05,294.06 310.25,295.83 C310.44,297.60 311.45,299.29 312.10,301.01 C312.75,302.72 313.83,304.35 314.13,306.12 C314.43,307.89 313.97,309.78 313.88,311.62 C313.80,313.45 313.59,315.28 313.62,317.11 C313.66,318.94 314.44,320.87 314.09,322.59 C313.73,324.31 312.21,325.76 311.48,327.43 C310.75,329.11 309.94,330.85 309.69,332.63 C309.44,334.42 309.67,336.34 310.01,338.12 C310.35,339.91 311.73,341.60 311.74,343.35 C311.75,345.09 310.36,347.72 310.08,348.59 M322.31,221.11 C322.66,221.96 323.98,224.43 324.44,226.18 C324.91,227.94 325.28,229.87 325.09,231.64 C324.90,233.42 323.36,235.09 323.29,236.84 C323.23,238.59 324.70,240.38 324.71,242.16 C324.73,243.93 324.12,245.85 323.38,247.49 C322.63,249.13 321.30,250.51 320.25,252.02 C319.21,253.52 318.17,255.04 317.11,256.53 C316.04,258.02 314.09,259.36 313.86,260.97 C313.62,262.57 315.40,264.37 315.68,266.15 C315.97,267.94 315.99,269.91 315.58,271.65 C315.17,273.40 313.29,274.94 313.22,276.62 C313.16,278.31 314.48,280.07 315.18,281.77 C315.87,283.46 316.65,285.12 317.42,286.79 C318.18,288.45 319.26,290.02 319.79,291.75 C320.31,293.49 320.31,295.38 320.58,297.19 C320.85,299.01 321.19,300.81 321.41,302.63 C321.63,304.45 322.10,306.32 321.92,308.11 C321.74,309.90 320.16,311.68 320.32,313.37 C320.48,315.06 321.83,316.75 322.86,318.25 C323.89,319.75 325.29,321.00 326.51,322.36 C327.74,323.72 328.97,325.08 330.21,326.43 C331.45,327.78 332.66,329.17 333.95,330.47 C335.24,331.77 337.51,332.72 337.95,334.24 C338.40,335.75 337.31,337.89 336.63,339.58 C335.95,341.26 334.34,343.55 333.88,344.34 M329.34,218.28 C329.59,219.17 330.29,221.83 330.79,223.59 C331.29,225.35 332.14,227.07 332.34,228.87 C332.54,230.66 332.17,232.53 332.00,234.36 C331.82,236.18 331.30,237.99 331.29,239.81 C331.28,241.63 331.45,243.53 331.93,245.27 C332.40,247.02 333.45,248.61 334.15,250.30 C334.86,252.00 335.30,253.82 336.15,255.43 C337.00,257.04 338.58,258.31 339.26,259.96 C339.94,261.62 340.22,263.58 340.21,265.38 C340.20,267.19 339.28,268.97 339.17,270.78 C339.06,272.60 339.02,274.57 339.54,276.27 C340.07,277.98 341.35,279.47 342.33,281.01 C343.31,282.56 344.56,283.95 345.43,285.56 C346.29,287.16 347.15,288.88 347.53,290.64 C347.90,292.41 347.96,294.35 347.70,296.14 C347.43,297.92 346.22,299.56 345.93,301.35 C345.65,303.13 346.31,305.07 346.00,306.85 C345.70,308.62 344.67,310.27 344.09,312.00 C343.51,313.74 342.81,315.48 342.51,317.27 C342.22,319.07 342.23,320.95 342.33,322.77 C342.42,324.59 342.91,326.39 343.09,328.22 C343.28,330.04 343.57,331.90 343.43,333.71 C343.28,335.52 342.42,337.26 342.23,339.07 C342.04,340.89 342.47,342.77 342.27,344.57 C342.07,346.38 341.27,348.12 341.02,349.93 C340.77,351.74 340.81,354.51 340.77,355.42"/><path stroke="#9e2450" d="M238.14,245.98 C238.76,245.30 240.46,243.09 241.84,241.91 C243.22,240.72 244.84,239.79 246.41,238.85 C247.98,237.91 249.56,236.48 251.26,236.26 C252.96,236.04 254.97,236.79 256.62,237.52 C258.26,238.25 259.48,240.20 261.14,240.64 C262.81,241.08 264.87,239.86 266.62,240.15 C268.37,240.43 269.99,241.60 271.65,242.38 C273.31,243.16 274.88,244.70 276.58,244.82 C278.27,244.94 280.06,243.69 281.81,243.11 C283.55,242.54 285.54,242.34 287.02,241.37 C288.50,240.40 289.17,237.97 290.70,237.28 C292.23,236.59 294.37,237.15 296.20,237.24 C298.03,237.32 299.95,237.26 301.68,237.77 C303.40,238.28 304.94,239.44 306.56,240.29 C308.19,241.14 309.74,242.16 311.42,242.86 C313.11,243.57 314.93,243.94 316.67,244.50 C318.42,245.07 320.10,245.91 321.88,246.28 C323.66,246.65 325.75,247.26 327.36,246.74 C328.97,246.23 329.97,244.04 331.55,243.18 C333.13,242.32 335.45,242.63 336.82,241.59 C338.19,240.55 339.28,237.73 339.77,236.95 M239.10,256.17 C239.67,255.45 241.50,253.38 242.51,251.86 C243.51,250.33 243.79,247.81 245.15,247.03 C246.50,246.26 248.96,247.69 250.64,247.22 C252.33,246.75 254.03,245.52 255.25,244.22 C256.48,242.93 256.60,240.26 257.97,239.44 C259.34,238.63 261.85,239.94 263.47,239.35 C265.10,238.75 266.12,236.33 267.74,235.87 C269.36,235.42 271.38,236.30 273.19,236.61 C274.99,236.92 276.86,237.12 278.57,237.73 C280.28,238.34 281.98,239.21 283.46,240.26 C284.93,241.32 285.90,243.14 287.44,244.06 C288.97,244.98 290.98,245.07 292.67,245.76 C294.36,246.46 296.01,248.35 297.58,248.23 C299.15,248.11 300.40,245.54 302.06,245.05 C303.73,244.56 305.73,245.32 307.56,245.30 C309.39,245.27 311.23,244.79 313.04,244.90 C314.86,245.00 316.81,246.27 318.45,245.91 C320.10,245.54 321.25,243.21 322.91,242.69 C324.57,242.17 326.71,242.28 328.41,242.78 C330.11,243.27 331.54,245.65 333.10,245.65 C334.67,245.65 337.02,243.27 337.80,242.79 M238.26,267.50 C239.09,267.12 241.74,266.20 243.26,265.21 C244.78,264.22 246.01,262.78 247.37,261.56 C248.74,260.33 249.86,258.65 251.44,257.86 C253.02,257.06 255.04,256.76 256.84,256.79 C258.63,256.83 260.39,257.97 262.19,258.05 C263.99,258.13 265.86,257.70 267.64,257.28 C269.41,256.85 271.12,256.12 272.85,255.50 C274.57,254.89 276.31,254.28 277.99,253.57 C279.68,252.86 281.28,251.95 282.97,251.22 C284.65,250.50 286.63,250.24 288.09,249.22 C289.55,248.20 290.29,246.15 291.73,245.10 C293.18,244.05 295.12,242.85 296.77,242.90 C298.43,242.95 299.94,245.00 301.67,245.40 C303.41,245.81 305.38,245.07 307.17,245.32 C308.97,245.57 310.74,247.05 312.44,246.91 C314.14,246.76 315.62,244.82 317.35,244.44 C319.09,244.05 321.07,244.27 322.85,244.59 C324.64,244.90 326.33,245.75 328.07,246.33 C329.81,246.90 331.51,247.68 333.30,248.04 C335.08,248.40 336.95,248.46 338.78,248.48 C340.61,248.49 343.35,248.18 344.27,248.12 M239.59,279.37 C240.26,278.75 242.02,276.21 243.61,275.61 C245.19,275.02 247.43,275.25 249.10,275.80 C250.77,276.35 251.99,278.19 253.64,278.92 C255.29,279.64 257.18,279.99 258.99,280.17 C260.80,280.35 262.69,279.77 264.49,280.00 C266.29,280.22 268.05,281.61 269.78,281.51 C271.50,281.41 273.22,280.22 274.85,279.39 C276.48,278.56 278.07,277.61 279.56,276.54 C281.04,275.47 282.14,273.74 283.74,272.97 C285.34,272.20 287.39,272.45 289.14,271.93 C290.89,271.40 292.62,270.69 294.22,269.83 C295.83,268.96 297.10,267.25 298.78,266.75 C300.45,266.24 302.63,266.24 304.28,266.81 C305.93,267.37 307.02,269.65 308.67,270.13 C310.31,270.60 312.34,269.53 314.15,269.66 C315.95,269.80 317.69,270.81 319.49,270.96 C321.30,271.11 323.24,270.22 324.98,270.56 C326.71,270.90 328.19,272.36 329.89,273.02 C331.60,273.68 333.42,274.52 335.19,274.52 C336.95,274.52 338.83,273.77 340.48,273.02 C342.13,272.28 344.33,270.54 345.11,270.05 M237.92,287.49 C238.71,287.04 241.06,285.58 242.69,284.75 C244.32,283.92 246.04,283.28 247.71,282.52 C249.38,281.76 250.98,280.37 252.70,280.20 C254.42,280.03 256.33,281.66 258.05,281.49 C259.77,281.31 261.41,279.04 263.02,279.14 C264.63,279.23 266.01,281.40 267.68,282.06 C269.36,282.72 271.29,282.73 273.08,283.11 C274.87,283.49 276.63,284.09 278.44,284.33 C280.25,284.57 282.23,284.07 283.94,284.56 C285.65,285.05 287.21,286.24 288.72,287.28 C290.22,288.31 291.40,289.87 292.96,290.77 C294.53,291.68 296.34,292.28 298.11,292.71 C299.88,293.14 301.81,292.90 303.58,293.34 C305.34,293.79 307.13,294.45 308.69,295.36 C310.25,296.28 311.33,298.15 312.95,298.84 C314.57,299.53 316.66,299.05 318.41,299.52 C320.16,299.99 322.03,300.61 323.48,301.65 C324.93,302.70 325.63,304.83 327.11,305.78 C328.60,306.73 330.63,307.36 332.38,307.35 C334.14,307.35 335.98,306.49 337.65,305.78 C339.33,305.06 341.64,303.52 342.44,303.07 M238.70,300.87 C239.40,301.46 241.29,303.89 242.91,304.41 C244.52,304.94 246.66,304.49 248.39,304.02 C250.13,303.55 251.70,302.44 253.33,301.58 C254.95,300.73 256.59,299.89 258.12,298.90 C259.66,297.90 260.89,296.09 262.54,295.62 C264.19,295.15 266.36,295.49 268.02,296.10 C269.69,296.70 271.20,298.01 272.54,299.24 C273.87,300.47 274.55,302.75 276.05,303.47 C277.55,304.20 279.87,303.05 281.55,303.58 C283.23,304.11 284.44,306.14 286.12,306.64 C287.79,307.14 289.79,306.68 291.62,306.59 C293.45,306.51 295.32,305.90 297.10,306.14 C298.87,306.37 300.58,308.09 302.27,308.00 C303.96,307.91 305.74,306.64 307.23,305.62 C308.72,304.59 309.68,302.27 311.24,301.85 C312.80,301.44 314.79,303.08 316.59,303.13 C318.38,303.17 320.20,302.52 321.99,302.12 C323.78,301.73 325.52,300.93 327.32,300.75 C329.12,300.57 331.02,300.71 332.81,301.05 C334.60,301.39 336.39,302.99 338.03,302.78 C339.67,302.57 341.87,300.28 342.64,299.78 M237.74,309.94 C238.62,309.65 241.18,308.43 242.97,308.21 C244.75,307.99 246.89,307.89 248.45,308.60 C250.02,309.31 250.81,311.63 252.35,312.48 C253.90,313.33 255.93,313.28 257.72,313.68 C259.51,314.09 261.34,315.08 263.08,314.92 C264.81,314.76 266.45,313.47 268.12,312.73 C269.80,311.98 271.38,310.68 273.12,310.43 C274.86,310.18 276.83,311.50 278.56,311.24 C280.29,310.97 281.87,308.82 283.51,308.84 C285.15,308.86 287.01,310.22 288.41,311.34 C289.82,312.46 290.46,315.02 291.95,315.55 C293.44,316.09 295.73,314.15 297.35,314.54 C298.98,314.94 300.07,317.22 301.70,317.91 C303.33,318.61 305.45,318.11 307.14,318.72 C308.84,319.32 310.36,320.50 311.86,321.54 C313.37,322.58 314.53,324.36 316.17,324.96 C317.80,325.56 319.88,324.80 321.66,325.15 C323.44,325.49 325.14,326.32 326.83,327.03 C328.52,327.73 330.28,328.39 331.80,329.38 C333.33,330.36 334.37,332.35 335.99,332.95 C337.60,333.55 340.57,332.96 341.49,332.96 M239.85,322.22 C240.73,322.46 243.40,323.78 245.14,323.70 C246.88,323.62 248.51,322.11 250.28,321.74 C252.05,321.37 253.95,321.65 255.77,321.48 C257.60,321.31 259.46,320.52 261.22,320.74 C262.98,320.96 264.69,321.98 266.33,322.78 C267.98,323.58 269.46,324.71 271.09,325.55 C272.72,326.38 274.38,327.59 276.12,327.77 C277.85,327.96 279.72,326.62 281.50,326.66 C283.29,326.70 285.11,327.41 286.84,327.99 C288.57,328.57 290.17,329.97 291.91,330.13 C293.65,330.29 295.63,328.63 297.28,328.96 C298.93,329.29 300.28,331.07 301.80,332.09 C303.32,333.12 304.74,334.82 306.40,335.11 C308.05,335.41 310.14,333.52 311.76,333.88 C313.37,334.24 314.46,336.86 316.09,337.27 C317.71,337.69 319.71,336.71 321.51,336.37 C323.31,336.02 325.13,335.08 326.89,335.21 C328.64,335.33 330.34,336.44 332.05,337.11 C333.76,337.77 335.42,338.55 337.13,339.22 C338.84,339.88 340.62,340.36 342.30,341.08 C343.98,341.81 346.40,343.14 347.21,343.56 M237.25,331.63 C238.06,331.20 240.41,329.23 242.10,329.05 C243.80,328.86 245.78,329.73 247.41,330.51 C249.03,331.29 250.29,332.81 251.85,333.75 C253.41,334.70 255.25,335.20 256.78,336.19 C258.31,337.17 259.43,338.90 261.04,339.66 C262.65,340.43 264.62,340.71 266.43,340.78 C268.24,340.84 270.06,340.27 271.88,340.07 C273.71,339.88 275.73,339.12 277.36,339.61 C279.00,340.09 280.09,342.69 281.69,343.00 C283.29,343.32 285.18,341.71 286.97,341.49 C288.77,341.27 290.66,341.86 292.47,341.69 C294.28,341.52 296.12,340.27 297.83,340.47 C299.55,340.67 301.04,342.39 302.77,342.89 C304.51,343.39 306.42,343.43 308.24,343.47 C310.07,343.50 311.90,343.19 313.73,343.10 C315.56,343.01 317.41,342.78 319.23,342.93 C321.05,343.07 322.99,343.26 324.63,343.97 C326.27,344.69 327.44,346.50 329.09,347.19 C330.73,347.89 332.92,347.36 334.51,348.13 C336.09,348.90 337.02,351.32 338.61,351.80 C340.20,352.27 343.14,351.12 344.05,350.98"/></g><g clip-path="url(#clipPf)" fill="none" stroke-width="0.8" opacity="0.85"><path stroke="#9e2450" d="M243.95,239.20 C243.87,240.12 243.70,242.87 243.44,244.68 C243.18,246.49 242.19,248.35 242.41,250.08 C242.63,251.81 243.75,253.55 244.78,255.04 C245.81,256.53 248.04,257.45 248.58,259.02 C249.12,260.59 247.90,262.69 248.03,264.49 C248.17,266.29 248.79,268.10 249.39,269.82 C249.99,271.55 251.63,273.18 251.62,274.85 C251.61,276.52 249.85,278.11 249.34,279.85 C248.84,281.60 249.13,283.57 248.60,285.30 C248.07,287.03 246.71,288.51 246.17,290.24 C245.62,291.97 245.67,293.87 245.32,295.67 C244.97,297.47 243.99,299.27 244.07,301.03 C244.16,302.79 245.58,304.45 245.84,306.24 C246.11,308.02 246.10,309.99 245.67,311.73 C245.24,313.47 243.86,314.96 243.26,316.68 C242.67,318.40 242.64,320.31 242.12,322.06 C241.59,323.81 240.77,325.46 240.11,327.18 C239.46,328.89 238.52,331.47 238.20,332.33 M251.86,238.14 C252.05,239.03 252.29,241.88 253.04,243.51 C253.79,245.13 255.97,246.26 256.36,247.89 C256.76,249.52 255.58,251.48 255.39,253.30 C255.19,255.12 255.46,257.00 255.17,258.80 C254.88,260.60 254.41,262.43 253.66,264.09 C252.92,265.74 251.63,267.14 250.71,268.73 C249.80,270.31 249.17,272.09 248.16,273.60 C247.14,275.11 245.35,276.20 244.62,277.81 C243.89,279.42 244.30,281.50 243.78,283.25 C243.26,284.99 241.99,286.51 241.52,288.26 C241.06,290.01 241.55,292.05 240.96,293.73 C240.38,295.42 239.09,296.90 238.02,298.38 C236.96,299.87 234.95,301.05 234.56,302.66 C234.18,304.27 235.07,306.35 235.72,308.04 C236.36,309.73 237.52,311.23 238.45,312.81 C239.39,314.38 241.15,315.85 241.32,317.50 C241.49,319.15 239.85,320.91 239.49,322.69 C239.13,324.47 239.38,326.36 239.17,328.18 C238.95,330.00 238.36,332.69 238.20,333.59 M261.40,234.81 C261.59,235.71 262.36,238.38 262.53,240.20 C262.70,242.01 262.54,243.87 262.42,245.70 C262.31,247.52 262.39,249.46 261.83,251.16 C261.26,252.87 259.90,254.29 259.05,255.91 C258.21,257.54 257.72,259.37 256.76,260.91 C255.80,262.45 254.45,263.76 253.27,265.17 C252.10,266.57 251.01,268.07 249.72,269.36 C248.43,270.66 246.70,271.54 245.52,272.91 C244.33,274.28 242.94,275.91 242.62,277.59 C242.31,279.27 243.78,281.24 243.62,283.00 C243.47,284.76 242.60,286.59 241.69,288.15 C240.77,289.70 239.37,290.99 238.14,292.35 C236.91,293.71 235.31,294.80 234.33,296.31 C233.34,297.82 232.95,299.71 232.24,301.40 C231.52,303.09 230.23,304.70 230.03,306.44 C229.83,308.18 231.15,310.08 231.03,311.85 C230.90,313.62 229.76,315.29 229.27,317.06 C228.78,318.82 228.12,320.63 228.08,322.43 C228.04,324.23 228.35,326.18 229.01,327.85 C229.68,329.51 231.57,331.65 232.08,332.41 M272.22,234.12 C271.98,235.00 271.03,237.63 270.79,239.43 C270.56,241.23 270.43,243.18 270.81,244.93 C271.18,246.68 272.31,248.28 273.05,249.95 C273.79,251.63 275.04,253.24 275.27,254.98 C275.50,256.73 275.00,258.71 274.41,260.42 C273.82,262.12 271.87,263.55 271.73,265.22 C271.59,266.88 273.27,268.62 273.58,270.40 C273.89,272.18 273.10,274.20 273.58,275.90 C274.05,277.60 276.00,278.90 276.43,280.60 C276.87,282.30 276.06,284.27 276.19,286.09 C276.32,287.91 277.38,289.75 277.21,291.50 C277.03,293.25 276.10,295.07 275.15,296.60 C274.20,298.13 272.36,299.14 271.48,300.70 C270.60,302.26 270.74,304.39 269.87,305.95 C268.99,307.52 266.91,308.49 266.25,310.10 C265.59,311.70 265.55,313.86 265.93,315.59 C266.30,317.31 267.99,318.73 268.49,320.46 C268.98,322.18 268.31,324.27 268.89,325.94 C269.47,327.62 270.93,328.99 271.96,330.51 C272.99,332.02 274.23,333.43 275.07,335.04 C275.90,336.66 276.64,339.35 276.96,340.21 M279.84,228.93 C279.54,229.80 278.27,232.35 278.05,234.13 C277.84,235.91 278.92,237.90 278.55,239.61 C278.18,241.32 276.87,242.89 275.85,244.40 C274.82,245.91 273.07,247.05 272.38,248.67 C271.69,250.29 271.81,252.30 271.69,254.12 C271.57,255.95 271.70,257.79 271.67,259.62 C271.65,261.46 271.72,263.30 271.53,265.12 C271.35,266.94 270.87,268.73 270.54,270.53 C270.20,272.33 269.81,274.13 269.51,275.93 C269.20,277.74 269.02,279.57 268.71,281.37 C268.39,283.18 268.31,285.11 267.60,286.76 C266.89,288.41 265.20,289.63 264.45,291.27 C263.70,292.91 263.32,294.79 263.08,296.60 C262.83,298.40 263.24,300.30 262.98,302.10 C262.71,303.90 261.56,305.61 261.50,307.39 C261.44,309.17 262.15,311.01 262.62,312.78 C263.10,314.54 264.47,316.30 264.36,318.00 C264.26,319.69 262.57,321.24 261.99,322.96 C261.41,324.69 261.20,326.54 260.88,328.35 C260.57,330.15 259.78,332.10 260.12,333.79 C260.46,335.49 262.15,336.88 262.90,338.54 C263.65,340.20 264.32,342.90 264.60,343.77 M288.32,226.32 C288.15,227.23 287.07,230.00 287.30,231.73 C287.53,233.45 289.28,234.93 289.71,236.67 C290.14,238.41 289.79,240.34 289.87,242.17 C289.94,244.00 290.28,245.85 290.15,247.66 C290.02,249.48 289.18,251.25 289.09,253.06 C289.00,254.87 289.73,256.72 289.63,258.53 C289.53,260.34 289.01,262.16 288.49,263.91 C287.97,265.67 286.46,267.35 286.51,269.04 C286.56,270.73 287.81,272.52 288.78,274.05 C289.75,275.59 291.66,276.65 292.31,278.27 C292.97,279.88 293.09,282.05 292.69,283.76 C292.29,285.46 290.30,286.80 289.91,288.50 C289.53,290.21 290.23,292.16 290.39,293.98 C290.55,295.81 290.86,297.63 290.87,299.46 C290.88,301.29 290.35,303.13 290.45,304.95 C290.55,306.76 291.08,308.56 291.47,310.35 C291.85,312.14 292.26,313.94 292.76,315.70 C293.26,317.46 293.94,319.17 294.49,320.92 C295.03,322.67 295.78,324.40 296.03,326.20 C296.29,327.99 295.81,329.89 296.03,331.70 C296.25,333.50 296.89,335.26 297.33,337.04 C297.77,338.82 298.64,340.60 298.66,342.38 C298.67,344.16 297.61,346.84 297.41,347.73 M294.71,226.97 C294.86,227.87 295.13,230.64 295.65,232.39 C296.16,234.14 297.62,235.71 297.80,237.45 C297.97,239.19 296.66,241.05 296.68,242.84 C296.71,244.63 297.32,246.48 297.95,248.19 C298.57,249.90 299.77,251.40 300.43,253.10 C301.08,254.80 301.75,256.61 301.87,258.41 C301.99,260.20 300.89,262.11 301.15,263.86 C301.40,265.60 302.69,267.18 303.41,268.87 C304.13,270.55 304.81,272.26 305.47,273.97 C306.13,275.68 307.29,277.38 307.37,279.13 C307.46,280.88 306.23,282.64 305.96,284.45 C305.70,286.25 306.22,288.20 305.80,289.94 C305.38,291.69 303.65,293.20 303.47,294.92 C303.28,296.65 304.21,298.52 304.67,300.29 C305.13,302.06 306.02,303.77 306.22,305.57 C306.41,307.36 306.34,309.33 305.85,311.06 C305.36,312.78 303.83,314.20 303.27,315.91 C302.72,317.63 302.40,319.57 302.52,321.36 C302.65,323.15 303.28,325.00 304.02,326.65 C304.76,328.31 306.30,329.63 306.96,331.30 C307.63,332.97 307.43,334.97 308.00,336.70 C308.57,338.43 310.16,339.93 310.38,341.66 C310.61,343.39 309.52,346.16 309.35,347.06 M306.55,222.55 C306.27,223.42 305.40,226.03 304.85,227.78 C304.29,229.52 303.94,231.35 303.24,233.04 C302.54,234.72 301.11,236.17 300.67,237.90 C300.23,239.63 300.24,241.65 300.62,243.40 C301.01,245.14 302.20,246.71 302.97,248.37 C303.74,250.04 305.03,251.65 305.24,253.38 C305.45,255.12 304.23,256.99 304.25,258.79 C304.26,260.59 304.92,262.40 305.35,264.18 C305.77,265.96 306.36,267.70 306.79,269.49 C307.22,271.27 307.56,273.07 307.91,274.87 C308.26,276.67 308.56,278.48 308.89,280.28 C309.22,282.09 310.09,283.96 309.87,285.69 C309.65,287.43 307.73,288.96 307.57,290.69 C307.40,292.41 308.07,294.43 308.87,296.03 C309.67,297.63 312.02,298.68 312.37,300.27 C312.73,301.86 311.70,303.93 310.98,305.59 C310.27,307.26 309.22,308.85 308.07,310.26 C306.92,311.67 304.98,312.54 304.09,314.06 C303.21,315.58 303.53,317.77 302.76,319.40 C302.00,321.02 300.67,322.42 299.49,323.81 C298.31,325.21 296.28,326.19 295.67,327.77 C295.06,329.35 296.05,331.47 295.81,333.27 C295.58,335.06 294.98,336.87 294.27,338.55 C293.56,340.22 292.00,342.53 291.55,343.33 M314.45,221.97 C314.67,222.86 315.17,225.59 315.77,227.31 C316.36,229.04 317.07,230.78 318.03,232.32 C318.99,233.87 320.78,234.96 321.52,236.57 C322.25,238.19 322.00,240.22 322.44,242.00 C322.89,243.77 324.12,245.45 324.19,247.21 C324.26,248.97 322.69,250.83 322.86,252.55 C323.04,254.27 325.13,255.81 325.25,257.51 C325.37,259.21 324.19,261.02 323.60,262.75 C323.01,264.49 322.56,266.32 321.69,267.91 C320.82,269.50 319.53,270.88 318.36,272.29 C317.19,273.70 315.92,275.03 314.67,276.36 C313.41,277.70 311.82,278.80 310.82,280.30 C309.82,281.80 308.65,283.68 308.67,285.36 C308.69,287.04 310.67,288.63 310.93,290.37 C311.19,292.12 310.05,294.06 310.25,295.83 C310.44,297.60 311.45,299.29 312.10,301.01 C312.75,302.72 313.83,304.35 314.13,306.12 C314.43,307.89 313.97,309.78 313.88,311.62 C313.80,313.45 313.59,315.28 313.62,317.11 C313.66,318.94 314.44,320.87 314.09,322.59 C313.73,324.31 312.21,325.76 311.48,327.43 C310.75,329.11 309.94,330.85 309.69,332.63 C309.44,334.42 309.67,336.34 310.01,338.12 C310.35,339.91 311.73,341.60 311.74,343.35 C311.75,345.09 310.36,347.72 310.08,348.59 M322.31,221.11 C322.66,221.96 323.98,224.43 324.44,226.18 C324.91,227.94 325.28,229.87 325.09,231.64 C324.90,233.42 323.36,235.09 323.29,236.84 C323.23,238.59 324.70,240.38 324.71,242.16 C324.73,243.93 324.12,245.85 323.38,247.49 C322.63,249.13 321.30,250.51 320.25,252.02 C319.21,253.52 318.17,255.04 317.11,256.53 C316.04,258.02 314.09,259.36 313.86,260.97 C313.62,262.57 315.40,264.37 315.68,266.15 C315.97,267.94 315.99,269.91 315.58,271.65 C315.17,273.40 313.29,274.94 313.22,276.62 C313.16,278.31 314.48,280.07 315.18,281.77 C315.87,283.46 316.65,285.12 317.42,286.79 C318.18,288.45 319.26,290.02 319.79,291.75 C320.31,293.49 320.31,295.38 320.58,297.19 C320.85,299.01 321.19,300.81 321.41,302.63 C321.63,304.45 322.10,306.32 321.92,308.11 C321.74,309.90 320.16,311.68 320.32,313.37 C320.48,315.06 321.83,316.75 322.86,318.25 C323.89,319.75 325.29,321.00 326.51,322.36 C327.74,323.72 328.97,325.08 330.21,326.43 C331.45,327.78 332.66,329.17 333.95,330.47 C335.24,331.77 337.51,332.72 337.95,334.24 C338.40,335.75 337.31,337.89 336.63,339.58 C335.95,341.26 334.34,343.55 333.88,344.34 M329.34,218.28 C329.59,219.17 330.29,221.83 330.79,223.59 C331.29,225.35 332.14,227.07 332.34,228.87 C332.54,230.66 332.17,232.53 332.00,234.36 C331.82,236.18 331.30,237.99 331.29,239.81 C331.28,241.63 331.45,243.53 331.93,245.27 C332.40,247.02 333.45,248.61 334.15,250.30 C334.86,252.00 335.30,253.82 336.15,255.43 C337.00,257.04 338.58,258.31 339.26,259.96 C339.94,261.62 340.22,263.58 340.21,265.38 C340.20,267.19 339.28,268.97 339.17,270.78 C339.06,272.60 339.02,274.57 339.54,276.27 C340.07,277.98 341.35,279.47 342.33,281.01 C343.31,282.56 344.56,283.95 345.43,285.56 C346.29,287.16 347.15,288.88 347.53,290.64 C347.90,292.41 347.96,294.35 347.70,296.14 C347.43,297.92 346.22,299.56 345.93,301.35 C345.65,303.13 346.31,305.07 346.00,306.85 C345.70,308.62 344.67,310.27 344.09,312.00 C343.51,313.74 342.81,315.48 342.51,317.27 C342.22,319.07 342.23,320.95 342.33,322.77 C342.42,324.59 342.91,326.39 343.09,328.22 C343.28,330.04 343.57,331.90 343.43,333.71 C343.28,335.52 342.42,337.26 342.23,339.07 C342.04,340.89 342.47,342.77 342.27,344.57 C342.07,346.38 341.27,348.12 341.02,349.93 C340.77,351.74 340.81,354.51 340.77,355.42"/><path stroke="#9e2450" d="M238.14,245.98 C238.76,245.30 240.46,243.09 241.84,241.91 C243.22,240.72 244.84,239.79 246.41,238.85 C247.98,237.91 249.56,236.48 251.26,236.26 C252.96,236.04 254.97,236.79 256.62,237.52 C258.26,238.25 259.48,240.20 261.14,240.64 C262.81,241.08 264.87,239.86 266.62,240.15 C268.37,240.43 269.99,241.60 271.65,242.38 C273.31,243.16 274.88,244.70 276.58,244.82 C278.27,244.94 280.06,243.69 281.81,243.11 C283.55,242.54 285.54,242.34 287.02,241.37 C288.50,240.40 289.17,237.97 290.70,237.28 C292.23,236.59 294.37,237.15 296.20,237.24 C298.03,237.32 299.95,237.26 301.68,237.77 C303.40,238.28 304.94,239.44 306.56,240.29 C308.19,241.14 309.74,242.16 311.42,242.86 C313.11,243.57 314.93,243.94 316.67,244.50 C318.42,245.07 320.10,245.91 321.88,246.28 C323.66,246.65 325.75,247.26 327.36,246.74 C328.97,246.23 329.97,244.04 331.55,243.18 C333.13,242.32 335.45,242.63 336.82,241.59 C338.19,240.55 339.28,237.73 339.77,236.95 M239.10,256.17 C239.67,255.45 241.50,253.38 242.51,251.86 C243.51,250.33 243.79,247.81 245.15,247.03 C246.50,246.26 248.96,247.69 250.64,247.22 C252.33,246.75 254.03,245.52 255.25,244.22 C256.48,242.93 256.60,240.26 257.97,239.44 C259.34,238.63 261.85,239.94 263.47,239.35 C265.10,238.75 266.12,236.33 267.74,235.87 C269.36,235.42 271.38,236.30 273.19,236.61 C274.99,236.92 276.86,237.12 278.57,237.73 C280.28,238.34 281.98,239.21 283.46,240.26 C284.93,241.32 285.90,243.14 287.44,244.06 C288.97,244.98 290.98,245.07 292.67,245.76 C294.36,246.46 296.01,248.35 297.58,248.23 C299.15,248.11 300.40,245.54 302.06,245.05 C303.73,244.56 305.73,245.32 307.56,245.30 C309.39,245.27 311.23,244.79 313.04,244.90 C314.86,245.00 316.81,246.27 318.45,245.91 C320.10,245.54 321.25,243.21 322.91,242.69 C324.57,242.17 326.71,242.28 328.41,242.78 C330.11,243.27 331.54,245.65 333.10,245.65 C334.67,245.65 337.02,243.27 337.80,242.79 M238.26,267.50 C239.09,267.12 241.74,266.20 243.26,265.21 C244.78,264.22 246.01,262.78 247.37,261.56 C248.74,260.33 249.86,258.65 251.44,257.86 C253.02,257.06 255.04,256.76 256.84,256.79 C258.63,256.83 260.39,257.97 262.19,258.05 C263.99,258.13 265.86,257.70 267.64,257.28 C269.41,256.85 271.12,256.12 272.85,255.50 C274.57,254.89 276.31,254.28 277.99,253.57 C279.68,252.86 281.28,251.95 282.97,251.22 C284.65,250.50 286.63,250.24 288.09,249.22 C289.55,248.20 290.29,246.15 291.73,245.10 C293.18,244.05 295.12,242.85 296.77,242.90 C298.43,242.95 299.94,245.00 301.67,245.40 C303.41,245.81 305.38,245.07 307.17,245.32 C308.97,245.57 310.74,247.05 312.44,246.91 C314.14,246.76 315.62,244.82 317.35,244.44 C319.09,244.05 321.07,244.27 322.85,244.59 C324.64,244.90 326.33,245.75 328.07,246.33 C329.81,246.90 331.51,247.68 333.30,248.04 C335.08,248.40 336.95,248.46 338.78,248.48 C340.61,248.49 343.35,248.18 344.27,248.12 M239.59,279.37 C240.26,278.75 242.02,276.21 243.61,275.61 C245.19,275.02 247.43,275.25 249.10,275.80 C250.77,276.35 251.99,278.19 253.64,278.92 C255.29,279.64 257.18,279.99 258.99,280.17 C260.80,280.35 262.69,279.77 264.49,280.00 C266.29,280.22 268.05,281.61 269.78,281.51 C271.50,281.41 273.22,280.22 274.85,279.39 C276.48,278.56 278.07,277.61 279.56,276.54 C281.04,275.47 282.14,273.74 283.74,272.97 C285.34,272.20 287.39,272.45 289.14,271.93 C290.89,271.40 292.62,270.69 294.22,269.83 C295.83,268.96 297.10,267.25 298.78,266.75 C300.45,266.24 302.63,266.24 304.28,266.81 C305.93,267.37 307.02,269.65 308.67,270.13 C310.31,270.60 312.34,269.53 314.15,269.66 C315.95,269.80 317.69,270.81 319.49,270.96 C321.30,271.11 323.24,270.22 324.98,270.56 C326.71,270.90 328.19,272.36 329.89,273.02 C331.60,273.68 333.42,274.52 335.19,274.52 C336.95,274.52 338.83,273.77 340.48,273.02 C342.13,272.28 344.33,270.54 345.11,270.05 M237.92,287.49 C238.71,287.04 241.06,285.58 242.69,284.75 C244.32,283.92 246.04,283.28 247.71,282.52 C249.38,281.76 250.98,280.37 252.70,280.20 C254.42,280.03 256.33,281.66 258.05,281.49 C259.77,281.31 261.41,279.04 263.02,279.14 C264.63,279.23 266.01,281.40 267.68,282.06 C269.36,282.72 271.29,282.73 273.08,283.11 C274.87,283.49 276.63,284.09 278.44,284.33 C280.25,284.57 282.23,284.07 283.94,284.56 C285.65,285.05 287.21,286.24 288.72,287.28 C290.22,288.31 291.40,289.87 292.96,290.77 C294.53,291.68 296.34,292.28 298.11,292.71 C299.88,293.14 301.81,292.90 303.58,293.34 C305.34,293.79 307.13,294.45 308.69,295.36 C310.25,296.28 311.33,298.15 312.95,298.84 C314.57,299.53 316.66,299.05 318.41,299.52 C320.16,299.99 322.03,300.61 323.48,301.65 C324.93,302.70 325.63,304.83 327.11,305.78 C328.60,306.73 330.63,307.36 332.38,307.35 C334.14,307.35 335.98,306.49 337.65,305.78 C339.33,305.06 341.64,303.52 342.44,303.07 M238.70,300.87 C239.40,301.46 241.29,303.89 242.91,304.41 C244.52,304.94 246.66,304.49 248.39,304.02 C250.13,303.55 251.70,302.44 253.33,301.58 C254.95,300.73 256.59,299.89 258.12,298.90 C259.66,297.90 260.89,296.09 262.54,295.62 C264.19,295.15 266.36,295.49 268.02,296.10 C269.69,296.70 271.20,298.01 272.54,299.24 C273.87,300.47 274.55,302.75 276.05,303.47 C277.55,304.20 279.87,303.05 281.55,303.58 C283.23,304.11 284.44,306.14 286.12,306.64 C287.79,307.14 289.79,306.68 291.62,306.59 C293.45,306.51 295.32,305.90 297.10,306.14 C298.87,306.37 300.58,308.09 302.27,308.00 C303.96,307.91 305.74,306.64 307.23,305.62 C308.72,304.59 309.68,302.27 311.24,301.85 C312.80,301.44 314.79,303.08 316.59,303.13 C318.38,303.17 320.20,302.52 321.99,302.12 C323.78,301.73 325.52,300.93 327.32,300.75 C329.12,300.57 331.02,300.71 332.81,301.05 C334.60,301.39 336.39,302.99 338.03,302.78 C339.67,302.57 341.87,300.28 342.64,299.78 M237.74,309.94 C238.62,309.65 241.18,308.43 242.97,308.21 C244.75,307.99 246.89,307.89 248.45,308.60 C250.02,309.31 250.81,311.63 252.35,312.48 C253.90,313.33 255.93,313.28 257.72,313.68 C259.51,314.09 261.34,315.08 263.08,314.92 C264.81,314.76 266.45,313.47 268.12,312.73 C269.80,311.98 271.38,310.68 273.12,310.43 C274.86,310.18 276.83,311.50 278.56,311.24 C280.29,310.97 281.87,308.82 283.51,308.84 C285.15,308.86 287.01,310.22 288.41,311.34 C289.82,312.46 290.46,315.02 291.95,315.55 C293.44,316.09 295.73,314.15 297.35,314.54 C298.98,314.94 300.07,317.22 301.70,317.91 C303.33,318.61 305.45,318.11 307.14,318.72 C308.84,319.32 310.36,320.50 311.86,321.54 C313.37,322.58 314.53,324.36 316.17,324.96 C317.80,325.56 319.88,324.80 321.66,325.15 C323.44,325.49 325.14,326.32 326.83,327.03 C328.52,327.73 330.28,328.39 331.80,329.38 C333.33,330.36 334.37,332.35 335.99,332.95 C337.60,333.55 340.57,332.96 341.49,332.96 M239.85,322.22 C240.73,322.46 243.40,323.78 245.14,323.70 C246.88,323.62 248.51,322.11 250.28,321.74 C252.05,321.37 253.95,321.65 255.77,321.48 C257.60,321.31 259.46,320.52 261.22,320.74 C262.98,320.96 264.69,321.98 266.33,322.78 C267.98,323.58 269.46,324.71 271.09,325.55 C272.72,326.38 274.38,327.59 276.12,327.77 C277.85,327.96 279.72,326.62 281.50,326.66 C283.29,326.70 285.11,327.41 286.84,327.99 C288.57,328.57 290.17,329.97 291.91,330.13 C293.65,330.29 295.63,328.63 297.28,328.96 C298.93,329.29 300.28,331.07 301.80,332.09 C303.32,333.12 304.74,334.82 306.40,335.11 C308.05,335.41 310.14,333.52 311.76,333.88 C313.37,334.24 314.46,336.86 316.09,337.27 C317.71,337.69 319.71,336.71 321.51,336.37 C323.31,336.02 325.13,335.08 326.89,335.21 C328.64,335.33 330.34,336.44 332.05,337.11 C333.76,337.77 335.42,338.55 337.13,339.22 C338.84,339.88 340.62,340.36 342.30,341.08 C343.98,341.81 346.40,343.14 347.21,343.56 M237.25,331.63 C238.06,331.20 240.41,329.23 242.10,329.05 C243.80,328.86 245.78,329.73 247.41,330.51 C249.03,331.29 250.29,332.81 251.85,333.75 C253.41,334.70 255.25,335.20 256.78,336.19 C258.31,337.17 259.43,338.90 261.04,339.66 C262.65,340.43 264.62,340.71 266.43,340.78 C268.24,340.84 270.06,340.27 271.88,340.07 C273.71,339.88 275.73,339.12 277.36,339.61 C279.00,340.09 280.09,342.69 281.69,343.00 C283.29,343.32 285.18,341.71 286.97,341.49 C288.77,341.27 290.66,341.86 292.47,341.69 C294.28,341.52 296.12,340.27 297.83,340.47 C299.55,340.67 301.04,342.39 302.77,342.89 C304.51,343.39 306.42,343.43 308.24,343.47 C310.07,343.50 311.90,343.19 313.73,343.10 C315.56,343.01 317.41,342.78 319.23,342.93 C321.05,343.07 322.99,343.26 324.63,343.97 C326.27,344.69 327.44,346.50 329.09,347.19 C330.73,347.89 332.92,347.36 334.51,348.13 C336.09,348.90 337.02,351.32 338.61,351.80 C340.20,352.27 343.14,351.12 344.05,350.98"/></g>
<g clip-path="url(#clipP)" fill="#9e2450"><circle cx="242.4" cy="250.1" r="0.9"/><circle cx="251.6" cy="274.8" r="0.9"/><circle cx="244.1" cy="301.0" r="0.9"/><circle cx="248.2" cy="273.6" r="0.9"/><circle cx="238.0" cy="298.4" r="0.9"/><circle cx="270.8" cy="244.9" r="0.9"/><circle cx="275.2" cy="296.6" r="0.9"/><circle cx="271.5" cy="265.1" r="0.9"/><circle cx="264.4" cy="291.3" r="0.9"/><circle cx="264.6" cy="343.8" r="0.9"/><circle cx="310.4" cy="341.7" r="0.9"/><circle cx="295.8" cy="333.3" r="0.9"/><circle cx="325.1" cy="231.6" r="0.9"/><circle cx="315.2" cy="281.8" r="0.9"/><circle cx="343.4" cy="333.7" r="0.9"/><circle cx="296.2" cy="237.2" r="0.9"/><circle cx="245.1" cy="247.0" r="0.9"/><circle cx="267.7" cy="235.9" r="0.9"/><circle cx="322.9" cy="244.6" r="0.9"/><circle cx="248.5" cy="308.6" r="0.9"/><circle cx="273.1" cy="310.4" r="0.9"/><circle cx="297.4" cy="314.5" r="0.9"/><circle cx="321.7" cy="325.1" r="0.9"/><circle cx="250.3" cy="321.7" r="0.9"/></g>
<path d="M352.70,242.50 L439.10,221.50 L435.30,263.00 C415.80,263.50 395.30,273.00 395.30,288.00 C395.30,302.00 412.80,314.50 430.80,315.50 L432.10,348.90 L353.00,329.90 Q364.80,287.00 352.70,242.50 Z" fill="url(#greenF)"/>
<path d="M439.10,221.50 L462.20,223.70 L458.30,261.00 L456.80,263.50 L435.30,263.00 Z" fill="#f4fbf8" stroke="#bfe4d6" stroke-width="0.8"/>
<path d="M430.80,315.50 L452.10,313.80 L461.90,346.40 L432.10,348.90 Z" fill="#f4fbf8" stroke="#bfe4d6" stroke-width="0.8"/>
<path d="M435.30,263.00 C415.80,263.50 395.30,273.00 395.30,288.00 C395.30,302.00 412.80,314.50 430.80,315.50 L452.10,313.80 C434.80,313.00 418.40,301.00 418.40,288.00 C418.40,274.00 437.80,264.00 456.80,263.50 Z" fill="url(#greenN)"/>
<clipPath id="clipGf"><path d="M352.70,242.50 L439.10,221.50 L435.30,263.00 C415.80,263.50 395.30,273.00 395.30,288.00 C395.30,302.00 412.80,314.50 430.80,315.50 L432.10,348.90 L353.00,329.90 Q364.80,287.00 352.70,242.50 Z" transform="translate(398.8,286) scale(0.93,0.94) translate(-398.8,-286)"/></clipPath>
<clipPath id="clipG"><path d="M352.70,242.50 L439.10,221.50 L435.30,263.00 C415.80,263.50 395.30,273.00 395.30,288.00 C395.30,302.00 412.80,314.50 430.80,315.50 L432.10,348.90 L353.00,329.90 Q364.80,287.00 352.70,242.50 Z"/><path d="M439.10,221.50 L462.20,223.70 L458.30,261.00 L456.80,263.50 L435.30,263.00 Z"/><path d="M430.80,315.50 L452.10,313.80 L461.90,346.40 L432.10,348.90 Z"/><path d="M435.30,263.00 C415.80,263.50 395.30,273.00 395.30,288.00 C395.30,302.00 412.80,314.50 430.80,315.50 L452.10,313.80 C434.80,313.00 418.40,301.00 418.40,288.00 C418.40,274.00 437.80,264.00 456.80,263.50 Z"/></clipPath>
<g clip-path="url(#clipG)" fill="none" stroke-width="0.7" opacity="0.45"><path stroke="#44524e" d="M356.29,239.62 C355.77,240.37 354.16,242.61 353.18,244.15 C352.20,245.70 351.47,247.42 350.40,248.90 C349.34,250.38 347.14,251.47 346.78,253.04 C346.43,254.61 347.90,256.54 348.29,258.33 C348.68,260.12 349.41,262.05 349.13,263.77 C348.85,265.49 347.38,267.00 346.63,268.67 C345.89,270.34 345.53,272.21 344.66,273.80 C343.79,275.40 341.77,276.62 341.43,278.25 C341.08,279.89 342.28,281.82 342.59,283.63 C342.90,285.44 342.83,287.32 343.26,289.09 C343.69,290.86 344.76,292.48 345.16,294.25 C345.56,296.02 345.62,297.90 345.65,299.73 C345.68,301.56 344.92,303.53 345.36,305.22 C345.80,306.91 347.31,308.32 348.29,309.87 C349.27,311.42 350.31,312.93 351.24,314.52 C352.16,316.10 353.67,317.68 353.83,319.37 C353.99,321.05 352.85,322.91 352.19,324.62 C351.52,326.32 350.23,328.76 349.84,329.59 M363.04,238.20 C362.99,239.12 362.41,241.94 362.74,243.69 C363.07,245.44 364.00,247.21 365.01,248.70 C366.03,250.19 368.33,251.09 368.84,252.66 C369.35,254.22 367.94,256.32 368.08,258.10 C368.22,259.89 369.00,261.67 369.67,263.37 C370.34,265.07 372.05,266.63 372.10,268.30 C372.16,269.97 370.86,271.77 369.99,273.37 C369.11,274.97 367.37,276.23 366.86,277.90 C366.35,279.57 367.39,281.70 366.92,283.40 C366.45,285.10 364.76,286.42 364.04,288.09 C363.32,289.75 363.12,291.64 362.59,293.39 C362.06,295.15 360.95,296.85 360.86,298.61 C360.78,300.38 362.28,302.25 362.10,303.97 C361.91,305.70 360.51,307.28 359.76,308.95 C359.01,310.63 358.56,312.48 357.60,314.01 C356.63,315.54 355.20,316.79 353.96,318.14 C352.73,319.49 350.86,320.54 350.17,322.12 C349.48,323.70 349.75,325.79 349.82,327.61 C349.90,329.43 350.47,332.15 350.60,333.06 M371.66,233.50 C371.97,234.36 373.19,236.90 373.51,238.68 C373.83,240.46 373.05,242.51 373.59,244.18 C374.12,245.85 376.15,247.04 376.70,248.71 C377.24,250.39 376.63,252.40 376.85,254.21 C377.06,256.03 377.50,257.83 377.97,259.60 C378.43,261.37 379.60,263.07 379.65,264.83 C379.69,266.59 378.55,268.35 378.24,270.15 C377.93,271.95 377.70,273.82 377.80,275.63 C377.90,277.45 378.57,279.22 378.83,281.04 C379.10,282.85 379.47,284.70 379.37,286.51 C379.28,288.32 378.04,290.17 378.25,291.89 C378.46,293.62 380.58,295.17 380.63,296.85 C380.68,298.52 378.52,300.25 378.54,301.93 C378.56,303.62 380.52,305.22 380.76,306.96 C381.01,308.71 380.57,310.69 380.03,312.41 C379.50,314.14 377.62,315.66 377.56,317.33 C377.49,318.99 379.48,320.66 379.66,322.41 C379.83,324.16 378.72,326.00 378.62,327.81 C378.53,329.63 379.07,331.46 379.09,333.29 C379.11,335.12 378.82,337.87 378.76,338.78 M379.64,231.17 C379.22,231.98 377.40,234.35 377.15,236.07 C376.89,237.79 378.17,239.69 378.11,241.48 C378.06,243.28 377.56,245.19 376.82,246.83 C376.08,248.47 374.84,249.93 373.67,251.34 C372.51,252.75 370.58,253.71 369.83,255.27 C369.07,256.84 369.15,258.91 369.15,260.73 C369.15,262.55 369.70,264.36 369.84,266.19 C369.97,268.01 370.22,269.90 369.95,271.69 C369.68,273.47 368.19,275.17 368.21,276.90 C368.22,278.63 369.89,280.32 370.05,282.08 C370.21,283.85 369.68,285.77 369.16,287.51 C368.64,289.25 367.81,290.94 366.91,292.53 C366.02,294.12 364.04,295.44 363.81,297.07 C363.57,298.70 365.59,300.59 365.52,302.30 C365.44,304.01 363.40,305.64 363.33,307.35 C363.26,309.05 364.51,310.82 365.10,312.55 C365.68,314.29 366.55,315.99 366.84,317.77 C367.12,319.56 367.26,321.55 366.82,323.27 C366.37,324.99 364.61,326.37 364.16,328.09 C363.71,329.81 364.57,331.87 364.11,333.59 C363.65,335.30 361.86,337.58 361.41,338.38 M390.38,229.62 C390.76,230.45 391.72,233.07 392.68,234.61 C393.64,236.16 394.97,237.48 396.13,238.90 C397.29,240.32 399.01,241.51 399.64,243.13 C400.27,244.75 400.37,246.94 399.92,248.62 C399.47,250.31 397.26,251.56 396.92,253.23 C396.58,254.91 397.20,257.00 397.88,258.65 C398.57,260.30 400.82,261.54 401.04,263.15 C401.27,264.77 399.68,266.57 399.21,268.34 C398.75,270.10 398.37,271.93 398.25,273.75 C398.13,275.57 398.15,277.47 398.49,279.25 C398.82,281.03 399.96,282.66 400.28,284.45 C400.60,286.23 400.71,288.18 400.39,289.95 C400.07,291.71 398.77,293.28 398.33,295.05 C397.90,296.81 397.82,298.69 397.78,300.52 C397.74,302.35 397.55,304.32 398.08,306.01 C398.61,307.71 400.74,309.03 400.97,310.69 C401.21,312.35 399.32,314.27 399.47,315.98 C399.62,317.68 401.29,319.20 401.86,320.93 C402.43,322.65 403.01,324.56 402.89,326.33 C402.76,328.10 401.12,329.79 401.10,331.53 C401.08,333.27 402.64,334.99 402.78,336.77 C402.92,338.55 402.08,341.30 401.94,342.21 M400.60,228.41 C400.96,229.25 402.18,231.73 402.76,233.47 C403.33,235.20 403.39,237.12 404.06,238.81 C404.73,240.50 406.51,241.90 406.78,243.59 C407.04,245.28 405.69,247.17 405.65,248.97 C405.61,250.77 406.28,252.59 406.54,254.40 C406.80,256.21 407.58,258.17 407.21,259.86 C406.84,261.55 405.36,263.03 404.33,264.55 C403.30,266.06 402.26,267.60 401.04,268.95 C399.81,270.30 397.91,271.17 396.98,272.67 C396.06,274.17 395.82,276.16 395.49,277.96 C395.15,279.75 395.33,281.65 394.96,283.43 C394.59,285.22 393.64,286.88 393.26,288.67 C392.89,290.45 392.61,292.33 392.71,294.14 C392.81,295.95 393.49,297.72 393.86,299.52 C394.23,301.31 394.33,303.21 394.95,304.91 C395.58,306.61 396.85,308.06 397.61,309.72 C398.36,311.39 399.57,313.20 399.49,314.89 C399.41,316.58 398.12,318.34 397.12,319.85 C396.11,321.36 394.45,322.44 393.45,323.95 C392.44,325.46 391.64,327.18 391.08,328.91 C390.53,330.64 390.16,332.52 390.11,334.33 C390.06,336.14 390.20,338.09 390.79,339.79 C391.37,341.48 393.15,343.71 393.63,344.50 M406.49,227.58 C406.56,228.50 407.13,231.28 406.92,233.06 C406.71,234.85 405.92,236.60 405.23,238.30 C404.55,240.00 403.59,241.58 402.82,243.24 C402.04,244.90 401.29,246.58 400.60,248.27 C399.90,249.97 399.37,251.73 398.64,253.41 C397.91,255.09 396.64,256.61 396.22,258.35 C395.80,260.09 396.36,262.05 396.11,263.85 C395.87,265.65 394.82,267.38 394.74,269.17 C394.66,270.97 395.40,272.78 395.62,274.60 C395.85,276.42 396.26,278.29 396.07,280.08 C395.89,281.88 395.07,283.61 394.50,285.35 C393.92,287.09 392.84,288.75 392.63,290.53 C392.42,292.30 393.57,294.28 393.23,296.00 C392.90,297.72 391.41,299.19 390.64,300.85 C389.87,302.51 389.18,304.22 388.62,305.96 C388.06,307.70 387.07,309.60 387.28,311.29 C387.48,312.99 389.29,314.44 389.85,316.15 C390.41,317.87 390.16,319.83 390.61,321.60 C391.05,323.37 392.26,324.99 392.52,326.76 C392.78,328.53 392.21,330.42 392.17,332.25 C392.12,334.08 392.59,335.98 392.27,337.75 C391.95,339.52 390.90,341.15 390.27,342.87 C389.64,344.59 388.80,347.21 388.51,348.08 M417.19,223.24 C416.90,224.11 416.21,226.80 415.46,228.47 C414.72,230.13 413.20,231.52 412.72,233.23 C412.24,234.94 412.96,236.98 412.56,238.73 C412.16,240.48 411.21,242.16 410.30,243.75 C409.40,245.33 408.08,246.68 407.14,248.24 C406.19,249.81 405.69,251.66 404.64,253.15 C403.59,254.63 402.17,255.86 400.85,257.13 C399.53,258.40 397.73,259.29 396.71,260.76 C395.70,262.22 395.25,264.14 394.76,265.90 C394.28,267.66 393.65,269.54 393.78,271.31 C393.91,273.08 395.50,274.76 395.55,276.51 C395.60,278.27 394.86,280.19 394.07,281.81 C393.28,283.43 391.56,284.61 390.82,286.24 C390.07,287.88 390.08,289.84 389.58,291.60 C389.09,293.37 388.49,295.11 387.85,296.82 C387.21,298.54 386.49,300.23 385.75,301.91 C385.02,303.59 383.63,305.17 383.44,306.90 C383.26,308.63 384.67,310.48 384.65,312.27 C384.62,314.05 383.70,315.81 383.29,317.60 C382.89,319.39 382.65,321.21 382.22,322.99 C381.79,324.77 380.98,326.48 380.72,328.28 C380.45,330.08 380.79,331.96 380.63,333.78 C380.47,335.60 380.27,337.46 379.78,339.22 C379.29,340.97 378.03,343.45 377.68,344.30 M425.15,222.80 C425.60,223.60 427.18,225.89 427.89,227.57 C428.60,229.25 429.21,231.06 429.40,232.86 C429.59,234.65 428.81,236.56 429.03,238.34 C429.24,240.13 430.51,241.80 430.70,243.58 C430.89,245.37 430.43,247.24 430.16,249.06 C429.89,250.87 428.85,252.73 429.08,254.45 C429.32,256.17 430.96,257.64 431.58,259.35 C432.20,261.06 432.22,262.98 432.79,264.72 C433.37,266.45 434.06,268.20 435.02,269.74 C435.99,271.28 437.38,272.55 438.58,273.94 C439.77,275.33 441.15,276.58 442.20,278.07 C443.25,279.56 443.93,281.32 444.88,282.88 C445.83,284.45 446.89,285.95 447.91,287.47 C448.94,288.99 449.85,290.60 451.03,292.00 C452.20,293.40 453.99,294.34 454.97,295.84 C455.95,297.34 456.32,299.25 456.91,300.99 C457.49,302.72 458.23,304.46 458.47,306.26 C458.71,308.05 458.49,309.93 458.37,311.76 C458.24,313.59 457.59,315.43 457.73,317.22 C457.87,319.02 459.28,320.79 459.19,322.52 C459.09,324.26 457.11,325.96 457.17,327.64 C457.23,329.32 458.89,330.89 459.55,332.60 C460.21,334.30 460.53,336.13 461.14,337.86 C461.75,339.59 462.62,341.23 463.20,342.96 C463.77,344.70 464.38,347.39 464.62,348.28 M431.66,221.66 C432.17,222.43 434.11,224.57 434.71,226.24 C435.30,227.92 434.70,230.01 435.25,231.72 C435.80,233.42 437.40,234.77 438.01,236.47 C438.61,238.17 438.49,240.11 438.86,241.91 C439.24,243.70 440.01,245.42 440.25,247.23 C440.49,249.03 440.75,251.03 440.28,252.73 C439.80,254.43 438.41,255.88 437.41,257.42 C436.42,258.96 434.95,260.29 434.30,261.96 C433.65,263.62 434.03,265.66 433.51,267.40 C433.00,269.14 431.90,270.70 431.21,272.39 C430.51,274.09 429.64,275.79 429.35,277.57 C429.06,279.35 429.05,281.32 429.46,283.07 C429.86,284.82 431.34,286.31 431.78,288.05 C432.23,289.80 432.11,291.71 432.11,293.54 C432.12,295.37 432.37,297.35 431.82,299.04 C431.28,300.72 430.00,302.25 428.86,303.67 C427.71,305.08 426.00,306.07 424.95,307.54 C423.90,309.01 422.97,310.76 422.58,312.50 C422.18,314.25 423.00,316.27 422.58,318.00 C422.16,319.73 420.13,321.24 420.08,322.90 C420.03,324.56 421.36,326.37 422.27,327.94 C423.18,329.52 424.83,330.73 425.53,332.37 C426.23,334.01 426.39,335.97 426.49,337.79 C426.58,339.61 425.81,341.52 426.11,343.28 C426.41,345.03 427.91,347.49 428.27,348.33 M442.32,219.31 C442.42,220.22 442.49,223.01 442.93,224.78 C443.37,226.54 444.25,228.20 444.94,229.90 C445.63,231.60 447.08,233.28 447.08,234.97 C447.07,236.65 445.28,238.26 444.90,240.02 C444.52,241.78 445.30,243.82 444.79,245.52 C444.29,247.21 442.96,248.71 441.87,250.17 C440.78,251.64 439.20,252.77 438.24,254.31 C437.27,255.84 436.32,257.61 436.08,259.36 C435.84,261.12 437.12,263.12 436.78,264.82 C436.43,266.52 434.66,267.89 434.01,269.58 C433.37,271.27 433.06,273.15 432.89,274.96 C432.72,276.77 432.77,278.65 432.99,280.46 C433.21,282.27 434.45,284.12 434.22,285.82 C433.99,287.52 432.22,288.96 431.62,290.67 C431.02,292.38 430.61,294.27 430.60,296.07 C430.60,297.88 431.34,299.67 431.60,301.48 C431.85,303.30 431.62,305.24 432.15,306.96 C432.67,308.67 434.27,310.08 434.75,311.80 C435.24,313.52 434.91,315.46 435.04,317.29 C435.17,319.12 435.19,320.98 435.52,322.77 C435.86,324.56 437.01,326.28 437.06,328.05 C437.11,329.82 436.47,331.71 435.84,333.41 C435.21,335.12 433.36,336.63 433.29,338.29 C433.21,339.94 434.93,341.61 435.39,343.37 C435.84,345.13 435.64,347.05 436.03,348.83 C436.42,350.61 437.47,353.18 437.75,354.05"/><path stroke="#9a3058" d="M349.93,248.74 C350.66,248.19 353.03,246.70 354.31,245.42 C355.60,244.14 356.20,241.57 357.64,241.05 C359.09,240.52 361.26,242.38 363.01,242.26 C364.76,242.13 366.38,240.74 368.15,240.30 C369.91,239.86 371.80,239.93 373.60,239.60 C375.41,239.28 377.15,238.57 378.96,238.34 C380.77,238.11 382.62,238.25 384.46,238.24 C386.29,238.23 388.15,238.06 389.96,238.27 C391.77,238.48 393.68,239.82 395.32,239.49 C396.96,239.16 398.12,236.81 399.78,236.27 C401.44,235.73 403.53,236.65 405.28,236.25 C407.02,235.86 408.53,234.53 410.24,233.89 C411.96,233.26 413.86,233.11 415.55,232.43 C417.23,231.75 418.84,230.80 420.38,229.81 C421.92,228.82 423.18,227.37 424.77,226.49 C426.36,225.62 428.20,225.20 429.92,224.57 C431.65,223.95 433.44,223.48 435.11,222.74 C436.78,222.01 438.24,220.57 439.97,220.17 C441.70,219.76 443.63,220.30 445.47,220.33 C447.30,220.36 449.44,221.03 450.97,220.36 C452.50,219.68 454.04,216.96 454.65,216.27 M348.62,256.61 C349.43,257.05 351.74,258.67 353.45,259.25 C355.15,259.84 357.31,260.62 358.88,260.13 C360.44,259.64 361.24,256.93 362.81,256.29 C364.39,255.65 366.50,256.49 368.31,256.30 C370.13,256.10 371.88,255.38 373.69,255.11 C375.49,254.84 377.35,254.58 379.17,254.66 C380.98,254.75 382.78,255.30 384.59,255.60 C386.40,255.90 388.20,256.39 390.02,256.47 C391.84,256.55 393.78,255.72 395.50,256.07 C397.23,256.43 398.66,258.27 400.38,258.61 C402.11,258.96 404.07,258.49 405.86,258.13 C407.65,257.77 409.35,256.48 411.11,256.48 C412.86,256.47 414.66,258.21 416.36,258.09 C418.07,257.96 419.74,256.62 421.33,255.72 C422.92,254.81 424.23,253.03 425.89,252.65 C427.56,252.28 429.72,253.93 431.33,253.47 C432.94,253.02 433.93,250.42 435.54,249.93 C437.15,249.45 439.20,250.26 441.00,250.57 C442.81,250.89 444.56,251.72 446.36,251.83 C448.16,251.93 450.10,251.71 451.82,251.18 C453.55,250.66 455.90,249.08 456.71,248.66 M350.44,269.32 C351.33,269.11 353.98,268.32 355.79,268.02 C357.59,267.71 359.44,267.69 361.26,267.49 C363.08,267.30 364.96,267.30 366.72,266.86 C368.49,266.43 370.32,265.82 371.85,264.86 C373.38,263.91 374.34,261.98 375.90,261.15 C377.47,260.31 379.48,259.78 381.24,259.83 C383.01,259.88 384.87,261.70 386.50,261.45 C388.13,261.20 389.59,259.46 391.04,258.34 C392.48,257.22 393.58,255.22 395.18,254.72 C396.78,254.23 398.89,254.90 400.64,255.37 C402.39,255.85 403.97,256.91 405.68,257.58 C407.38,258.25 409.27,259.65 410.87,259.40 C412.46,259.15 413.60,256.62 415.25,256.07 C416.89,255.52 419.10,255.52 420.75,256.08 C422.40,256.63 423.86,258.10 425.14,259.38 C426.42,260.67 427.11,262.55 428.42,263.80 C429.72,265.06 431.39,266.84 432.95,266.92 C434.51,266.99 436.06,264.47 437.75,264.24 C439.44,264.01 441.36,265.67 443.10,265.53 C444.84,265.38 446.41,263.76 448.17,263.39 C449.93,263.02 452.75,263.32 453.67,263.31 M349.65,280.61 C350.47,280.20 352.91,278.21 354.58,278.16 C356.24,278.12 357.94,280.33 359.63,280.33 C361.32,280.34 362.93,278.58 364.70,278.19 C366.46,277.81 368.37,278.21 370.19,278.02 C372.01,277.83 373.96,277.73 375.61,277.04 C377.25,276.35 378.43,274.48 380.09,273.86 C381.75,273.24 383.99,274.03 385.56,273.31 C387.14,272.59 388.33,270.88 389.54,269.51 C390.76,268.15 391.52,266.35 392.83,265.11 C394.14,263.86 396.08,263.28 397.40,262.05 C398.72,260.81 399.76,259.22 400.76,257.69 C401.76,256.16 402.11,253.99 403.41,252.87 C404.72,251.75 406.82,251.13 408.58,250.98 C410.34,250.83 412.33,251.31 413.98,252.00 C415.64,252.69 416.89,254.91 418.51,255.13 C420.12,255.34 421.94,253.83 423.69,253.27 C425.43,252.71 427.26,252.40 428.98,251.77 C430.69,251.14 432.23,249.93 433.98,249.50 C435.73,249.07 437.65,249.30 439.48,249.18 C441.30,249.06 443.28,248.33 444.96,248.77 C446.64,249.21 448.77,251.32 449.53,251.83 M347.02,288.90 C347.84,288.48 350.18,286.79 351.91,286.37 C353.64,285.95 355.57,286.38 357.41,286.40 C359.24,286.41 361.24,285.91 362.91,286.45 C364.57,286.99 365.77,288.81 367.39,289.64 C369.00,290.47 370.85,290.84 372.59,291.42 C374.33,292.00 376.06,293.04 377.83,293.11 C379.59,293.18 381.37,292.07 383.18,291.85 C384.99,291.62 386.91,292.11 388.68,291.76 C390.45,291.41 392.05,289.87 393.80,289.74 C395.54,289.61 397.35,290.66 399.16,290.96 C400.96,291.27 402.91,291.93 404.62,291.59 C406.34,291.25 407.88,289.90 409.44,288.93 C411.00,287.97 412.39,286.73 413.97,285.82 C415.56,284.92 417.23,283.73 418.96,283.51 C420.70,283.29 422.63,284.70 424.37,284.50 C426.12,284.29 427.67,282.53 429.42,282.30 C431.16,282.08 433.07,282.75 434.85,283.15 C436.63,283.56 438.44,284.92 440.12,284.75 C441.80,284.57 443.21,282.48 444.93,282.08 C446.65,281.68 448.75,282.82 450.42,282.35 C452.10,281.88 454.22,279.78 454.98,279.27 M349.18,298.50 C349.95,298.99 352.16,300.73 353.83,301.43 C355.50,302.13 357.39,302.60 359.19,302.68 C360.99,302.77 362.89,301.68 364.63,301.93 C366.38,302.18 368.01,304.26 369.64,304.20 C371.28,304.14 372.76,301.84 374.47,301.56 C376.18,301.28 378.21,302.84 379.89,302.50 C381.57,302.17 383.07,300.65 384.53,299.56 C386.00,298.47 387.16,296.17 388.69,295.95 C390.21,295.73 392.04,297.43 393.69,298.23 C395.34,299.03 396.86,300.51 398.58,300.76 C400.29,301.01 402.33,300.43 403.98,299.73 C405.63,299.03 406.91,296.64 408.47,296.55 C410.02,296.46 411.68,298.32 413.30,299.18 C414.92,300.04 416.66,300.71 418.17,301.73 C419.68,302.75 420.76,304.91 422.35,305.31 C423.94,305.70 425.91,304.18 427.71,304.10 C429.52,304.02 431.35,304.83 433.16,304.83 C434.98,304.84 436.87,304.61 438.62,304.12 C440.37,303.64 441.96,302.62 443.65,301.91 C445.34,301.20 446.99,300.16 448.76,299.87 C450.53,299.58 453.34,300.11 454.25,300.16 M348.34,309.99 C349.13,310.46 351.50,311.86 353.09,312.77 C354.69,313.67 356.42,314.37 357.91,315.42 C359.39,316.48 360.44,318.24 362.01,319.09 C363.58,319.94 365.74,319.69 367.32,320.52 C368.90,321.35 369.96,323.15 371.51,324.08 C373.06,325.01 374.91,325.45 376.62,326.12 C378.33,326.78 380.04,327.44 381.77,328.06 C383.49,328.68 385.33,329.04 386.98,329.82 C388.62,330.60 389.95,332.14 391.63,332.75 C393.32,333.37 395.36,333.81 397.08,333.51 C398.80,333.22 400.52,332.08 401.96,330.99 C403.40,329.90 404.39,328.23 405.71,326.97 C407.04,325.70 408.64,324.72 409.91,323.41 C411.18,322.10 411.88,319.55 413.32,319.10 C414.77,318.64 416.81,320.28 418.59,320.69 C420.37,321.11 422.32,320.97 424.02,321.57 C425.71,322.18 427.16,324.29 428.77,324.34 C430.38,324.38 431.96,322.42 433.68,321.86 C435.41,321.30 437.45,320.61 439.11,320.98 C440.78,321.34 442.11,323.10 443.68,324.04 C445.25,324.98 447.73,326.19 448.54,326.62 M348.66,320.91 C349.49,320.53 352.05,319.48 353.65,318.59 C355.24,317.70 356.61,316.36 358.25,315.58 C359.89,314.79 361.71,314.34 363.48,313.88 C365.25,313.43 367.23,312.50 368.88,312.85 C370.54,313.19 371.76,315.60 373.42,315.96 C375.08,316.32 377.07,315.46 378.84,315.00 C380.60,314.54 382.31,313.83 384.03,313.21 C385.76,312.58 387.54,312.07 389.18,311.27 C390.82,310.47 392.27,309.27 393.88,308.42 C395.50,307.56 397.23,306.91 398.88,306.12 C400.54,305.33 402.07,304.17 403.80,303.66 C405.54,303.16 407.62,303.73 409.27,303.08 C410.92,302.44 412.15,299.93 413.69,299.81 C415.24,299.70 416.83,301.87 418.55,302.39 C420.27,302.92 422.47,302.21 424.02,302.97 C425.57,303.73 426.50,305.68 427.83,306.94 C429.16,308.20 430.57,309.37 432.00,310.53 C433.42,311.68 434.77,313.01 436.37,313.86 C437.97,314.71 440.15,314.60 441.58,315.62 C443.02,316.63 443.50,319.32 444.98,319.94 C446.46,320.57 449.54,319.46 450.45,319.37 M347.96,332.47 C348.71,333.01 350.78,335.25 352.44,335.68 C354.09,336.10 356.13,335.47 357.90,335.04 C359.67,334.62 361.51,334.06 363.06,333.14 C364.61,332.22 365.75,330.62 367.22,329.54 C368.70,328.47 370.44,327.75 371.92,326.68 C373.39,325.60 374.51,323.95 376.09,323.09 C377.66,322.23 379.80,321.16 381.35,321.51 C382.91,321.86 383.86,324.38 385.43,325.20 C387.01,326.03 388.98,326.30 390.79,326.46 C392.59,326.63 394.45,326.18 396.28,326.20 C398.11,326.22 399.94,326.68 401.76,326.61 C403.58,326.53 405.46,325.52 407.20,325.76 C408.94,326.00 410.63,327.12 412.20,328.05 C413.77,328.97 414.97,330.88 416.62,331.33 C418.26,331.78 420.29,331.10 422.08,330.74 C423.87,330.37 425.59,329.16 427.35,329.16 C429.11,329.15 431.19,329.71 432.63,330.69 C434.07,331.68 434.74,333.72 435.99,335.05 C437.23,336.39 438.55,337.80 440.10,338.71 C441.65,339.61 443.93,339.42 445.31,340.48 C446.68,341.54 447.84,344.30 448.34,345.06"/></g><g clip-path="url(#clipGf)" fill="none" stroke-width="0.8" opacity="0.85"><path stroke="#44524e" d="M356.29,239.62 C355.77,240.37 354.16,242.61 353.18,244.15 C352.20,245.70 351.47,247.42 350.40,248.90 C349.34,250.38 347.14,251.47 346.78,253.04 C346.43,254.61 347.90,256.54 348.29,258.33 C348.68,260.12 349.41,262.05 349.13,263.77 C348.85,265.49 347.38,267.00 346.63,268.67 C345.89,270.34 345.53,272.21 344.66,273.80 C343.79,275.40 341.77,276.62 341.43,278.25 C341.08,279.89 342.28,281.82 342.59,283.63 C342.90,285.44 342.83,287.32 343.26,289.09 C343.69,290.86 344.76,292.48 345.16,294.25 C345.56,296.02 345.62,297.90 345.65,299.73 C345.68,301.56 344.92,303.53 345.36,305.22 C345.80,306.91 347.31,308.32 348.29,309.87 C349.27,311.42 350.31,312.93 351.24,314.52 C352.16,316.10 353.67,317.68 353.83,319.37 C353.99,321.05 352.85,322.91 352.19,324.62 C351.52,326.32 350.23,328.76 349.84,329.59 M363.04,238.20 C362.99,239.12 362.41,241.94 362.74,243.69 C363.07,245.44 364.00,247.21 365.01,248.70 C366.03,250.19 368.33,251.09 368.84,252.66 C369.35,254.22 367.94,256.32 368.08,258.10 C368.22,259.89 369.00,261.67 369.67,263.37 C370.34,265.07 372.05,266.63 372.10,268.30 C372.16,269.97 370.86,271.77 369.99,273.37 C369.11,274.97 367.37,276.23 366.86,277.90 C366.35,279.57 367.39,281.70 366.92,283.40 C366.45,285.10 364.76,286.42 364.04,288.09 C363.32,289.75 363.12,291.64 362.59,293.39 C362.06,295.15 360.95,296.85 360.86,298.61 C360.78,300.38 362.28,302.25 362.10,303.97 C361.91,305.70 360.51,307.28 359.76,308.95 C359.01,310.63 358.56,312.48 357.60,314.01 C356.63,315.54 355.20,316.79 353.96,318.14 C352.73,319.49 350.86,320.54 350.17,322.12 C349.48,323.70 349.75,325.79 349.82,327.61 C349.90,329.43 350.47,332.15 350.60,333.06 M371.66,233.50 C371.97,234.36 373.19,236.90 373.51,238.68 C373.83,240.46 373.05,242.51 373.59,244.18 C374.12,245.85 376.15,247.04 376.70,248.71 C377.24,250.39 376.63,252.40 376.85,254.21 C377.06,256.03 377.50,257.83 377.97,259.60 C378.43,261.37 379.60,263.07 379.65,264.83 C379.69,266.59 378.55,268.35 378.24,270.15 C377.93,271.95 377.70,273.82 377.80,275.63 C377.90,277.45 378.57,279.22 378.83,281.04 C379.10,282.85 379.47,284.70 379.37,286.51 C379.28,288.32 378.04,290.17 378.25,291.89 C378.46,293.62 380.58,295.17 380.63,296.85 C380.68,298.52 378.52,300.25 378.54,301.93 C378.56,303.62 380.52,305.22 380.76,306.96 C381.01,308.71 380.57,310.69 380.03,312.41 C379.50,314.14 377.62,315.66 377.56,317.33 C377.49,318.99 379.48,320.66 379.66,322.41 C379.83,324.16 378.72,326.00 378.62,327.81 C378.53,329.63 379.07,331.46 379.09,333.29 C379.11,335.12 378.82,337.87 378.76,338.78 M379.64,231.17 C379.22,231.98 377.40,234.35 377.15,236.07 C376.89,237.79 378.17,239.69 378.11,241.48 C378.06,243.28 377.56,245.19 376.82,246.83 C376.08,248.47 374.84,249.93 373.67,251.34 C372.51,252.75 370.58,253.71 369.83,255.27 C369.07,256.84 369.15,258.91 369.15,260.73 C369.15,262.55 369.70,264.36 369.84,266.19 C369.97,268.01 370.22,269.90 369.95,271.69 C369.68,273.47 368.19,275.17 368.21,276.90 C368.22,278.63 369.89,280.32 370.05,282.08 C370.21,283.85 369.68,285.77 369.16,287.51 C368.64,289.25 367.81,290.94 366.91,292.53 C366.02,294.12 364.04,295.44 363.81,297.07 C363.57,298.70 365.59,300.59 365.52,302.30 C365.44,304.01 363.40,305.64 363.33,307.35 C363.26,309.05 364.51,310.82 365.10,312.55 C365.68,314.29 366.55,315.99 366.84,317.77 C367.12,319.56 367.26,321.55 366.82,323.27 C366.37,324.99 364.61,326.37 364.16,328.09 C363.71,329.81 364.57,331.87 364.11,333.59 C363.65,335.30 361.86,337.58 361.41,338.38 M390.38,229.62 C390.76,230.45 391.72,233.07 392.68,234.61 C393.64,236.16 394.97,237.48 396.13,238.90 C397.29,240.32 399.01,241.51 399.64,243.13 C400.27,244.75 400.37,246.94 399.92,248.62 C399.47,250.31 397.26,251.56 396.92,253.23 C396.58,254.91 397.20,257.00 397.88,258.65 C398.57,260.30 400.82,261.54 401.04,263.15 C401.27,264.77 399.68,266.57 399.21,268.34 C398.75,270.10 398.37,271.93 398.25,273.75 C398.13,275.57 398.15,277.47 398.49,279.25 C398.82,281.03 399.96,282.66 400.28,284.45 C400.60,286.23 400.71,288.18 400.39,289.95 C400.07,291.71 398.77,293.28 398.33,295.05 C397.90,296.81 397.82,298.69 397.78,300.52 C397.74,302.35 397.55,304.32 398.08,306.01 C398.61,307.71 400.74,309.03 400.97,310.69 C401.21,312.35 399.32,314.27 399.47,315.98 C399.62,317.68 401.29,319.20 401.86,320.93 C402.43,322.65 403.01,324.56 402.89,326.33 C402.76,328.10 401.12,329.79 401.10,331.53 C401.08,333.27 402.64,334.99 402.78,336.77 C402.92,338.55 402.08,341.30 401.94,342.21 M400.60,228.41 C400.96,229.25 402.18,231.73 402.76,233.47 C403.33,235.20 403.39,237.12 404.06,238.81 C404.73,240.50 406.51,241.90 406.78,243.59 C407.04,245.28 405.69,247.17 405.65,248.97 C405.61,250.77 406.28,252.59 406.54,254.40 C406.80,256.21 407.58,258.17 407.21,259.86 C406.84,261.55 405.36,263.03 404.33,264.55 C403.30,266.06 402.26,267.60 401.04,268.95 C399.81,270.30 397.91,271.17 396.98,272.67 C396.06,274.17 395.82,276.16 395.49,277.96 C395.15,279.75 395.33,281.65 394.96,283.43 C394.59,285.22 393.64,286.88 393.26,288.67 C392.89,290.45 392.61,292.33 392.71,294.14 C392.81,295.95 393.49,297.72 393.86,299.52 C394.23,301.31 394.33,303.21 394.95,304.91 C395.58,306.61 396.85,308.06 397.61,309.72 C398.36,311.39 399.57,313.20 399.49,314.89 C399.41,316.58 398.12,318.34 397.12,319.85 C396.11,321.36 394.45,322.44 393.45,323.95 C392.44,325.46 391.64,327.18 391.08,328.91 C390.53,330.64 390.16,332.52 390.11,334.33 C390.06,336.14 390.20,338.09 390.79,339.79 C391.37,341.48 393.15,343.71 393.63,344.50 M406.49,227.58 C406.56,228.50 407.13,231.28 406.92,233.06 C406.71,234.85 405.92,236.60 405.23,238.30 C404.55,240.00 403.59,241.58 402.82,243.24 C402.04,244.90 401.29,246.58 400.60,248.27 C399.90,249.97 399.37,251.73 398.64,253.41 C397.91,255.09 396.64,256.61 396.22,258.35 C395.80,260.09 396.36,262.05 396.11,263.85 C395.87,265.65 394.82,267.38 394.74,269.17 C394.66,270.97 395.40,272.78 395.62,274.60 C395.85,276.42 396.26,278.29 396.07,280.08 C395.89,281.88 395.07,283.61 394.50,285.35 C393.92,287.09 392.84,288.75 392.63,290.53 C392.42,292.30 393.57,294.28 393.23,296.00 C392.90,297.72 391.41,299.19 390.64,300.85 C389.87,302.51 389.18,304.22 388.62,305.96 C388.06,307.70 387.07,309.60 387.28,311.29 C387.48,312.99 389.29,314.44 389.85,316.15 C390.41,317.87 390.16,319.83 390.61,321.60 C391.05,323.37 392.26,324.99 392.52,326.76 C392.78,328.53 392.21,330.42 392.17,332.25 C392.12,334.08 392.59,335.98 392.27,337.75 C391.95,339.52 390.90,341.15 390.27,342.87 C389.64,344.59 388.80,347.21 388.51,348.08 M417.19,223.24 C416.90,224.11 416.21,226.80 415.46,228.47 C414.72,230.13 413.20,231.52 412.72,233.23 C412.24,234.94 412.96,236.98 412.56,238.73 C412.16,240.48 411.21,242.16 410.30,243.75 C409.40,245.33 408.08,246.68 407.14,248.24 C406.19,249.81 405.69,251.66 404.64,253.15 C403.59,254.63 402.17,255.86 400.85,257.13 C399.53,258.40 397.73,259.29 396.71,260.76 C395.70,262.22 395.25,264.14 394.76,265.90 C394.28,267.66 393.65,269.54 393.78,271.31 C393.91,273.08 395.50,274.76 395.55,276.51 C395.60,278.27 394.86,280.19 394.07,281.81 C393.28,283.43 391.56,284.61 390.82,286.24 C390.07,287.88 390.08,289.84 389.58,291.60 C389.09,293.37 388.49,295.11 387.85,296.82 C387.21,298.54 386.49,300.23 385.75,301.91 C385.02,303.59 383.63,305.17 383.44,306.90 C383.26,308.63 384.67,310.48 384.65,312.27 C384.62,314.05 383.70,315.81 383.29,317.60 C382.89,319.39 382.65,321.21 382.22,322.99 C381.79,324.77 380.98,326.48 380.72,328.28 C380.45,330.08 380.79,331.96 380.63,333.78 C380.47,335.60 380.27,337.46 379.78,339.22 C379.29,340.97 378.03,343.45 377.68,344.30 M425.15,222.80 C425.60,223.60 427.18,225.89 427.89,227.57 C428.60,229.25 429.21,231.06 429.40,232.86 C429.59,234.65 428.81,236.56 429.03,238.34 C429.24,240.13 430.51,241.80 430.70,243.58 C430.89,245.37 430.43,247.24 430.16,249.06 C429.89,250.87 428.85,252.73 429.08,254.45 C429.32,256.17 430.96,257.64 431.58,259.35 C432.20,261.06 432.22,262.98 432.79,264.72 C433.37,266.45 434.06,268.20 435.02,269.74 C435.99,271.28 437.38,272.55 438.58,273.94 C439.77,275.33 441.15,276.58 442.20,278.07 C443.25,279.56 443.93,281.32 444.88,282.88 C445.83,284.45 446.89,285.95 447.91,287.47 C448.94,288.99 449.85,290.60 451.03,292.00 C452.20,293.40 453.99,294.34 454.97,295.84 C455.95,297.34 456.32,299.25 456.91,300.99 C457.49,302.72 458.23,304.46 458.47,306.26 C458.71,308.05 458.49,309.93 458.37,311.76 C458.24,313.59 457.59,315.43 457.73,317.22 C457.87,319.02 459.28,320.79 459.19,322.52 C459.09,324.26 457.11,325.96 457.17,327.64 C457.23,329.32 458.89,330.89 459.55,332.60 C460.21,334.30 460.53,336.13 461.14,337.86 C461.75,339.59 462.62,341.23 463.20,342.96 C463.77,344.70 464.38,347.39 464.62,348.28 M431.66,221.66 C432.17,222.43 434.11,224.57 434.71,226.24 C435.30,227.92 434.70,230.01 435.25,231.72 C435.80,233.42 437.40,234.77 438.01,236.47 C438.61,238.17 438.49,240.11 438.86,241.91 C439.24,243.70 440.01,245.42 440.25,247.23 C440.49,249.03 440.75,251.03 440.28,252.73 C439.80,254.43 438.41,255.88 437.41,257.42 C436.42,258.96 434.95,260.29 434.30,261.96 C433.65,263.62 434.03,265.66 433.51,267.40 C433.00,269.14 431.90,270.70 431.21,272.39 C430.51,274.09 429.64,275.79 429.35,277.57 C429.06,279.35 429.05,281.32 429.46,283.07 C429.86,284.82 431.34,286.31 431.78,288.05 C432.23,289.80 432.11,291.71 432.11,293.54 C432.12,295.37 432.37,297.35 431.82,299.04 C431.28,300.72 430.00,302.25 428.86,303.67 C427.71,305.08 426.00,306.07 424.95,307.54 C423.90,309.01 422.97,310.76 422.58,312.50 C422.18,314.25 423.00,316.27 422.58,318.00 C422.16,319.73 420.13,321.24 420.08,322.90 C420.03,324.56 421.36,326.37 422.27,327.94 C423.18,329.52 424.83,330.73 425.53,332.37 C426.23,334.01 426.39,335.97 426.49,337.79 C426.58,339.61 425.81,341.52 426.11,343.28 C426.41,345.03 427.91,347.49 428.27,348.33 M442.32,219.31 C442.42,220.22 442.49,223.01 442.93,224.78 C443.37,226.54 444.25,228.20 444.94,229.90 C445.63,231.60 447.08,233.28 447.08,234.97 C447.07,236.65 445.28,238.26 444.90,240.02 C444.52,241.78 445.30,243.82 444.79,245.52 C444.29,247.21 442.96,248.71 441.87,250.17 C440.78,251.64 439.20,252.77 438.24,254.31 C437.27,255.84 436.32,257.61 436.08,259.36 C435.84,261.12 437.12,263.12 436.78,264.82 C436.43,266.52 434.66,267.89 434.01,269.58 C433.37,271.27 433.06,273.15 432.89,274.96 C432.72,276.77 432.77,278.65 432.99,280.46 C433.21,282.27 434.45,284.12 434.22,285.82 C433.99,287.52 432.22,288.96 431.62,290.67 C431.02,292.38 430.61,294.27 430.60,296.07 C430.60,297.88 431.34,299.67 431.60,301.48 C431.85,303.30 431.62,305.24 432.15,306.96 C432.67,308.67 434.27,310.08 434.75,311.80 C435.24,313.52 434.91,315.46 435.04,317.29 C435.17,319.12 435.19,320.98 435.52,322.77 C435.86,324.56 437.01,326.28 437.06,328.05 C437.11,329.82 436.47,331.71 435.84,333.41 C435.21,335.12 433.36,336.63 433.29,338.29 C433.21,339.94 434.93,341.61 435.39,343.37 C435.84,345.13 435.64,347.05 436.03,348.83 C436.42,350.61 437.47,353.18 437.75,354.05"/><path stroke="#9a3058" d="M349.93,248.74 C350.66,248.19 353.03,246.70 354.31,245.42 C355.60,244.14 356.20,241.57 357.64,241.05 C359.09,240.52 361.26,242.38 363.01,242.26 C364.76,242.13 366.38,240.74 368.15,240.30 C369.91,239.86 371.80,239.93 373.60,239.60 C375.41,239.28 377.15,238.57 378.96,238.34 C380.77,238.11 382.62,238.25 384.46,238.24 C386.29,238.23 388.15,238.06 389.96,238.27 C391.77,238.48 393.68,239.82 395.32,239.49 C396.96,239.16 398.12,236.81 399.78,236.27 C401.44,235.73 403.53,236.65 405.28,236.25 C407.02,235.86 408.53,234.53 410.24,233.89 C411.96,233.26 413.86,233.11 415.55,232.43 C417.23,231.75 418.84,230.80 420.38,229.81 C421.92,228.82 423.18,227.37 424.77,226.49 C426.36,225.62 428.20,225.20 429.92,224.57 C431.65,223.95 433.44,223.48 435.11,222.74 C436.78,222.01 438.24,220.57 439.97,220.17 C441.70,219.76 443.63,220.30 445.47,220.33 C447.30,220.36 449.44,221.03 450.97,220.36 C452.50,219.68 454.04,216.96 454.65,216.27 M348.62,256.61 C349.43,257.05 351.74,258.67 353.45,259.25 C355.15,259.84 357.31,260.62 358.88,260.13 C360.44,259.64 361.24,256.93 362.81,256.29 C364.39,255.65 366.50,256.49 368.31,256.30 C370.13,256.10 371.88,255.38 373.69,255.11 C375.49,254.84 377.35,254.58 379.17,254.66 C380.98,254.75 382.78,255.30 384.59,255.60 C386.40,255.90 388.20,256.39 390.02,256.47 C391.84,256.55 393.78,255.72 395.50,256.07 C397.23,256.43 398.66,258.27 400.38,258.61 C402.11,258.96 404.07,258.49 405.86,258.13 C407.65,257.77 409.35,256.48 411.11,256.48 C412.86,256.47 414.66,258.21 416.36,258.09 C418.07,257.96 419.74,256.62 421.33,255.72 C422.92,254.81 424.23,253.03 425.89,252.65 C427.56,252.28 429.72,253.93 431.33,253.47 C432.94,253.02 433.93,250.42 435.54,249.93 C437.15,249.45 439.20,250.26 441.00,250.57 C442.81,250.89 444.56,251.72 446.36,251.83 C448.16,251.93 450.10,251.71 451.82,251.18 C453.55,250.66 455.90,249.08 456.71,248.66 M350.44,269.32 C351.33,269.11 353.98,268.32 355.79,268.02 C357.59,267.71 359.44,267.69 361.26,267.49 C363.08,267.30 364.96,267.30 366.72,266.86 C368.49,266.43 370.32,265.82 371.85,264.86 C373.38,263.91 374.34,261.98 375.90,261.15 C377.47,260.31 379.48,259.78 381.24,259.83 C383.01,259.88 384.87,261.70 386.50,261.45 C388.13,261.20 389.59,259.46 391.04,258.34 C392.48,257.22 393.58,255.22 395.18,254.72 C396.78,254.23 398.89,254.90 400.64,255.37 C402.39,255.85 403.97,256.91 405.68,257.58 C407.38,258.25 409.27,259.65 410.87,259.40 C412.46,259.15 413.60,256.62 415.25,256.07 C416.89,255.52 419.10,255.52 420.75,256.08 C422.40,256.63 423.86,258.10 425.14,259.38 C426.42,260.67 427.11,262.55 428.42,263.80 C429.72,265.06 431.39,266.84 432.95,266.92 C434.51,266.99 436.06,264.47 437.75,264.24 C439.44,264.01 441.36,265.67 443.10,265.53 C444.84,265.38 446.41,263.76 448.17,263.39 C449.93,263.02 452.75,263.32 453.67,263.31 M349.65,280.61 C350.47,280.20 352.91,278.21 354.58,278.16 C356.24,278.12 357.94,280.33 359.63,280.33 C361.32,280.34 362.93,278.58 364.70,278.19 C366.46,277.81 368.37,278.21 370.19,278.02 C372.01,277.83 373.96,277.73 375.61,277.04 C377.25,276.35 378.43,274.48 380.09,273.86 C381.75,273.24 383.99,274.03 385.56,273.31 C387.14,272.59 388.33,270.88 389.54,269.51 C390.76,268.15 391.52,266.35 392.83,265.11 C394.14,263.86 396.08,263.28 397.40,262.05 C398.72,260.81 399.76,259.22 400.76,257.69 C401.76,256.16 402.11,253.99 403.41,252.87 C404.72,251.75 406.82,251.13 408.58,250.98 C410.34,250.83 412.33,251.31 413.98,252.00 C415.64,252.69 416.89,254.91 418.51,255.13 C420.12,255.34 421.94,253.83 423.69,253.27 C425.43,252.71 427.26,252.40 428.98,251.77 C430.69,251.14 432.23,249.93 433.98,249.50 C435.73,249.07 437.65,249.30 439.48,249.18 C441.30,249.06 443.28,248.33 444.96,248.77 C446.64,249.21 448.77,251.32 449.53,251.83 M347.02,288.90 C347.84,288.48 350.18,286.79 351.91,286.37 C353.64,285.95 355.57,286.38 357.41,286.40 C359.24,286.41 361.24,285.91 362.91,286.45 C364.57,286.99 365.77,288.81 367.39,289.64 C369.00,290.47 370.85,290.84 372.59,291.42 C374.33,292.00 376.06,293.04 377.83,293.11 C379.59,293.18 381.37,292.07 383.18,291.85 C384.99,291.62 386.91,292.11 388.68,291.76 C390.45,291.41 392.05,289.87 393.80,289.74 C395.54,289.61 397.35,290.66 399.16,290.96 C400.96,291.27 402.91,291.93 404.62,291.59 C406.34,291.25 407.88,289.90 409.44,288.93 C411.00,287.97 412.39,286.73 413.97,285.82 C415.56,284.92 417.23,283.73 418.96,283.51 C420.70,283.29 422.63,284.70 424.37,284.50 C426.12,284.29 427.67,282.53 429.42,282.30 C431.16,282.08 433.07,282.75 434.85,283.15 C436.63,283.56 438.44,284.92 440.12,284.75 C441.80,284.57 443.21,282.48 444.93,282.08 C446.65,281.68 448.75,282.82 450.42,282.35 C452.10,281.88 454.22,279.78 454.98,279.27 M349.18,298.50 C349.95,298.99 352.16,300.73 353.83,301.43 C355.50,302.13 357.39,302.60 359.19,302.68 C360.99,302.77 362.89,301.68 364.63,301.93 C366.38,302.18 368.01,304.26 369.64,304.20 C371.28,304.14 372.76,301.84 374.47,301.56 C376.18,301.28 378.21,302.84 379.89,302.50 C381.57,302.17 383.07,300.65 384.53,299.56 C386.00,298.47 387.16,296.17 388.69,295.95 C390.21,295.73 392.04,297.43 393.69,298.23 C395.34,299.03 396.86,300.51 398.58,300.76 C400.29,301.01 402.33,300.43 403.98,299.73 C405.63,299.03 406.91,296.64 408.47,296.55 C410.02,296.46 411.68,298.32 413.30,299.18 C414.92,300.04 416.66,300.71 418.17,301.73 C419.68,302.75 420.76,304.91 422.35,305.31 C423.94,305.70 425.91,304.18 427.71,304.10 C429.52,304.02 431.35,304.83 433.16,304.83 C434.98,304.84 436.87,304.61 438.62,304.12 C440.37,303.64 441.96,302.62 443.65,301.91 C445.34,301.20 446.99,300.16 448.76,299.87 C450.53,299.58 453.34,300.11 454.25,300.16 M348.34,309.99 C349.13,310.46 351.50,311.86 353.09,312.77 C354.69,313.67 356.42,314.37 357.91,315.42 C359.39,316.48 360.44,318.24 362.01,319.09 C363.58,319.94 365.74,319.69 367.32,320.52 C368.90,321.35 369.96,323.15 371.51,324.08 C373.06,325.01 374.91,325.45 376.62,326.12 C378.33,326.78 380.04,327.44 381.77,328.06 C383.49,328.68 385.33,329.04 386.98,329.82 C388.62,330.60 389.95,332.14 391.63,332.75 C393.32,333.37 395.36,333.81 397.08,333.51 C398.80,333.22 400.52,332.08 401.96,330.99 C403.40,329.90 404.39,328.23 405.71,326.97 C407.04,325.70 408.64,324.72 409.91,323.41 C411.18,322.10 411.88,319.55 413.32,319.10 C414.77,318.64 416.81,320.28 418.59,320.69 C420.37,321.11 422.32,320.97 424.02,321.57 C425.71,322.18 427.16,324.29 428.77,324.34 C430.38,324.38 431.96,322.42 433.68,321.86 C435.41,321.30 437.45,320.61 439.11,320.98 C440.78,321.34 442.11,323.10 443.68,324.04 C445.25,324.98 447.73,326.19 448.54,326.62 M348.66,320.91 C349.49,320.53 352.05,319.48 353.65,318.59 C355.24,317.70 356.61,316.36 358.25,315.58 C359.89,314.79 361.71,314.34 363.48,313.88 C365.25,313.43 367.23,312.50 368.88,312.85 C370.54,313.19 371.76,315.60 373.42,315.96 C375.08,316.32 377.07,315.46 378.84,315.00 C380.60,314.54 382.31,313.83 384.03,313.21 C385.76,312.58 387.54,312.07 389.18,311.27 C390.82,310.47 392.27,309.27 393.88,308.42 C395.50,307.56 397.23,306.91 398.88,306.12 C400.54,305.33 402.07,304.17 403.80,303.66 C405.54,303.16 407.62,303.73 409.27,303.08 C410.92,302.44 412.15,299.93 413.69,299.81 C415.24,299.70 416.83,301.87 418.55,302.39 C420.27,302.92 422.47,302.21 424.02,302.97 C425.57,303.73 426.50,305.68 427.83,306.94 C429.16,308.20 430.57,309.37 432.00,310.53 C433.42,311.68 434.77,313.01 436.37,313.86 C437.97,314.71 440.15,314.60 441.58,315.62 C443.02,316.63 443.50,319.32 444.98,319.94 C446.46,320.57 449.54,319.46 450.45,319.37 M347.96,332.47 C348.71,333.01 350.78,335.25 352.44,335.68 C354.09,336.10 356.13,335.47 357.90,335.04 C359.67,334.62 361.51,334.06 363.06,333.14 C364.61,332.22 365.75,330.62 367.22,329.54 C368.70,328.47 370.44,327.75 371.92,326.68 C373.39,325.60 374.51,323.95 376.09,323.09 C377.66,322.23 379.80,321.16 381.35,321.51 C382.91,321.86 383.86,324.38 385.43,325.20 C387.01,326.03 388.98,326.30 390.79,326.46 C392.59,326.63 394.45,326.18 396.28,326.20 C398.11,326.22 399.94,326.68 401.76,326.61 C403.58,326.53 405.46,325.52 407.20,325.76 C408.94,326.00 410.63,327.12 412.20,328.05 C413.77,328.97 414.97,330.88 416.62,331.33 C418.26,331.78 420.29,331.10 422.08,330.74 C423.87,330.37 425.59,329.16 427.35,329.16 C429.11,329.15 431.19,329.71 432.63,330.69 C434.07,331.68 434.74,333.72 435.99,335.05 C437.23,336.39 438.55,337.80 440.10,338.71 C441.65,339.61 443.93,339.42 445.31,340.48 C446.68,341.54 447.84,344.30 448.34,345.06"/></g>
<g clip-path="url(#clipG)" fill="#9a3058"><circle cx="350.4" cy="248.9" r="0.9"/><circle cx="344.7" cy="273.8" r="0.9"/><circle cx="365.0" cy="248.7" r="0.9"/><circle cx="378.2" cy="270.2" r="0.9"/><circle cx="380.6" cy="296.8" r="0.9"/><circle cx="366.9" cy="292.5" r="0.9"/><circle cx="366.8" cy="317.8" r="0.9"/><circle cx="396.1" cy="238.9" r="0.9"/><circle cx="400.4" cy="289.9" r="0.9"/><circle cx="399.5" cy="316.0" r="0.9"/><circle cx="404.3" cy="264.5" r="0.9"/><circle cx="393.3" cy="288.7" r="0.9"/><circle cx="390.8" cy="339.8" r="0.9"/><circle cx="389.9" cy="316.2" r="0.9"/><circle cx="412.7" cy="233.2" r="0.9"/><circle cx="429.4" cy="232.9" r="0.9"/><circle cx="431.6" cy="259.4" r="0.9"/><circle cx="433.0" cy="280.5" r="0.9"/><circle cx="432.1" cy="307.0" r="0.9"/><circle cx="357.6" cy="241.0" r="0.9"/><circle cx="358.9" cy="260.1" r="0.9"/><circle cx="384.6" cy="255.6" r="0.9"/><circle cx="411.1" cy="256.5" r="0.9"/><circle cx="435.5" cy="249.9" r="0.9"/><circle cx="410.9" cy="259.4" r="0.9"/><circle cx="432.9" cy="266.9" r="0.9"/><circle cx="385.6" cy="273.3" r="0.9"/><circle cx="403.4" cy="252.9" r="0.9"/><circle cx="429.0" cy="251.8" r="0.9"/><circle cx="383.2" cy="291.8" r="0.9"/><circle cx="357.9" cy="335.0" r="0.9"/><circle cx="432.6" cy="330.7" r="0.9"/></g>
<g clip-path="url(#clipG)" fill="none" stroke="#3fbb86" stroke-width="2.1" stroke-dasharray="1.4,0.7" opacity="0.9"><path d="M377.97,259.60 C378.25,260.47 379.60,263.07 379.65,264.83 C379.69,266.59 378.48,269.27 378.24,270.15"/><path d="M432.89,274.96 C432.91,275.88 432.77,278.65 432.99,280.46 C433.21,282.27 434.01,284.93 434.22,285.82"/><path d="M362.74,243.69 C363.12,244.53 364.00,247.21 365.01,248.70 C366.03,250.19 368.20,252.00 368.84,252.66"/><path d="M349.13,263.77 C348.71,264.59 347.38,267.00 346.63,268.67 C345.89,270.34 344.99,272.95 344.66,273.80"/><path d="M391.63,332.75 C392.54,332.88 395.36,333.81 397.08,333.51 C398.80,333.22 401.15,331.41 401.96,330.99"/><path d="M389.96,238.27 C390.85,238.47 393.68,239.82 395.32,239.49 C396.96,239.16 399.03,236.81 399.78,236.27"/><path d="M410.87,259.40 C411.60,258.84 413.60,256.62 415.25,256.07 C416.89,255.52 419.83,256.08 420.75,256.08"/><path d="M402.76,233.47 C402.97,234.36 403.39,237.12 404.06,238.81 C404.73,240.50 406.33,242.79 406.78,243.59"/><path d="M440.28,252.73 C439.80,253.51 438.41,255.88 437.41,257.42 C436.42,258.96 434.82,261.20 434.30,261.96"/><path d="M395.50,256.07 C396.32,256.50 398.66,258.27 400.38,258.61 C402.11,258.96 404.95,258.21 405.86,258.13"/><path d="M375.90,261.15 C376.79,260.93 379.48,259.78 381.24,259.83 C383.01,259.88 385.62,261.18 386.50,261.45"/><path d="M390.64,300.85 C390.30,301.70 389.18,304.22 388.62,305.96 C388.06,307.70 387.50,310.41 387.28,311.29"/><path d="M394.95,304.91 C395.39,305.71 396.85,308.06 397.61,309.72 C398.36,311.39 399.18,314.03 399.49,314.89"/><path d="M418.55,302.39 C419.46,302.49 422.47,302.21 424.02,302.97 C425.57,303.73 427.19,306.28 427.83,306.94"/><path d="M346.63,268.67 C346.30,269.52 345.53,272.21 344.66,273.80 C343.79,275.40 341.97,277.51 341.43,278.25"/><path d="M353.65,318.59 C354.41,318.09 356.61,316.36 358.25,315.58 C359.89,314.79 362.61,314.17 363.48,313.88"/><path d="M405.23,238.30 C404.83,239.12 403.59,241.58 402.82,243.24 C402.04,244.90 400.97,247.43 400.60,248.27"/><path d="M350.40,248.90 C349.80,249.59 347.14,251.47 346.78,253.04 C346.43,254.61 348.04,257.45 348.29,258.33"/><path d="M423.69,253.27 C424.57,253.02 427.26,252.40 428.98,251.77 C430.69,251.14 433.15,249.88 433.98,249.50"/><path d="M413.30,299.18 C414.11,299.60 416.66,300.71 418.17,301.73 C419.68,302.75 421.65,304.71 422.35,305.31"/></g>
</svg></body></html>
